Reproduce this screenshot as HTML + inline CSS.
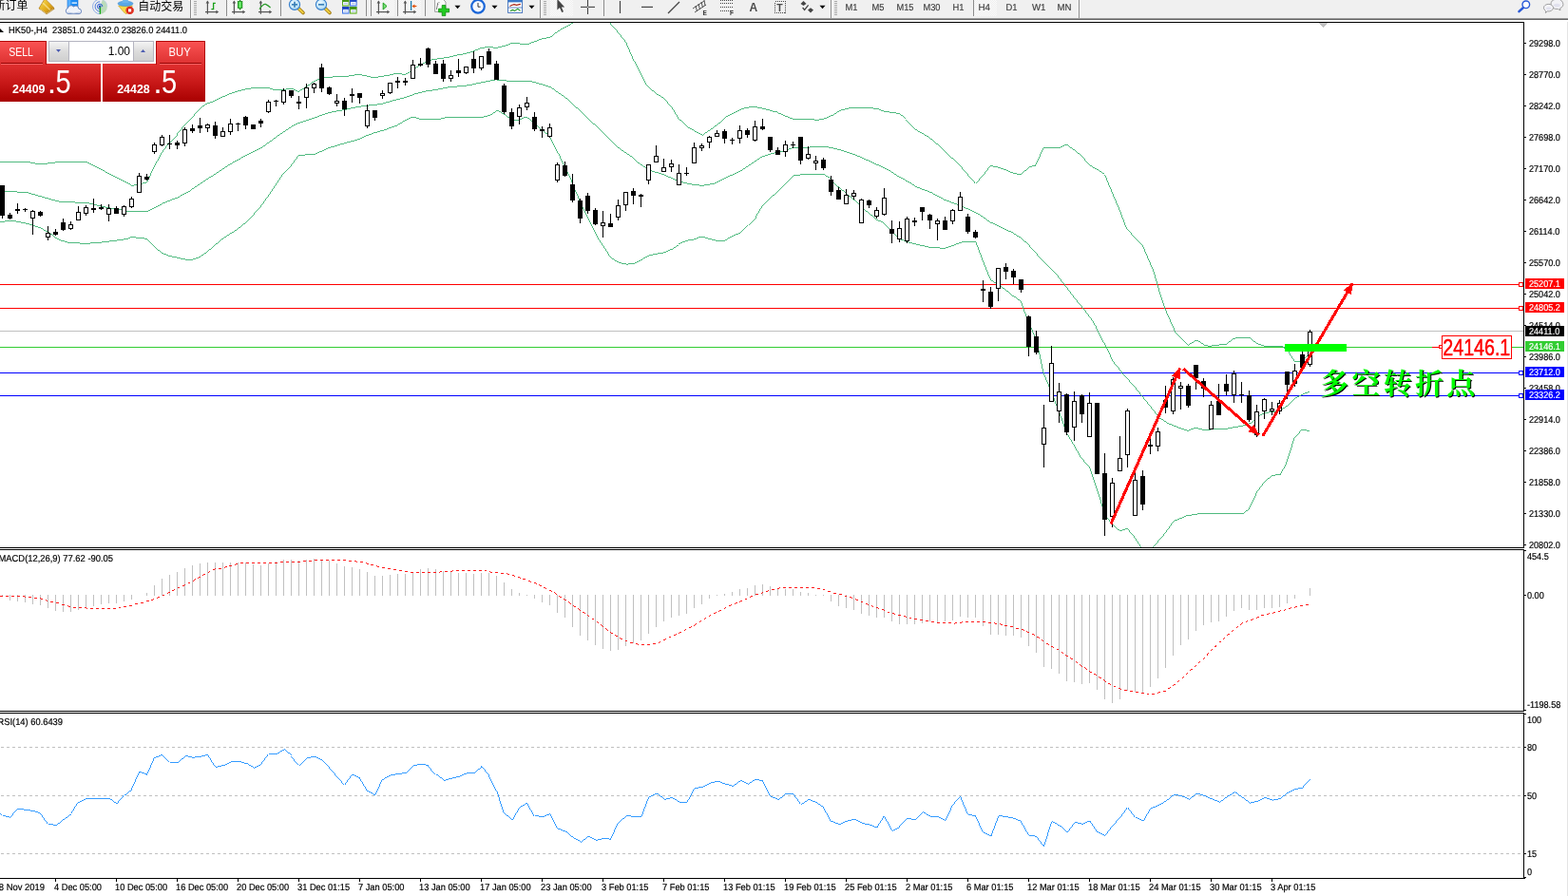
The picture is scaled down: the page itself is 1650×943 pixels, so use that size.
<!DOCTYPE html>
<html><head><meta charset="utf-8"><title>HK50-,H4</title>
<style>html,body{margin:0;padding:0;background:#fff;overflow:hidden}body{width:1650px;height:943px;font-family:"Liberation Sans","Noto Sans CJK SC",sans-serif}svg{display:block;position:absolute;left:0;top:0}text{white-space:pre}</style>
</head><body>
<svg width="1650" height="943" viewBox="0 0 1650 943">
<defs>
<clipPath id="cm"><rect x="0" y="24" width="1603" height="552"/></clipPath>
<clipPath id="cd"><rect x="0" y="579" width="1603" height="169"/></clipPath>
<clipPath id="cr"><rect x="0" y="751" width="1603" height="173"/></clipPath>
<linearGradient id="gr1" x1="0" y1="0" x2="0" y2="1"><stop offset="0" stop-color="#fb5454"/><stop offset="1" stop-color="#dc3030"/></linearGradient>
<linearGradient id="gr2" x1="0" y1="0" x2="0" y2="1"><stop offset="0" stop-color="#e03030"/><stop offset="0.5" stop-color="#c81818"/><stop offset="1" stop-color="#a80000"/></linearGradient>
<linearGradient id="gb" x1="0" y1="0" x2="0" y2="1"><stop offset="0" stop-color="#f4f4f4"/><stop offset="0.5" stop-color="#dcdcdc"/><stop offset="1" stop-color="#cfcfcf"/></linearGradient>
</defs>
<rect x="0" y="0" width="1650" height="943" fill="#fff"/>
<g shape-rendering="crispEdges">
<rect x="0" y="299" width="1603" height="1" fill="#ff0000"/>
<rect x="0" y="324" width="1603" height="1" fill="#ff0000"/>
<rect x="0" y="348" width="1603" height="1" fill="#c0c0c0"/>
<rect x="0" y="365" width="1603" height="1" fill="#32cd32"/>
<rect x="0" y="392" width="1603" height="1" fill="#0000ff"/>
<rect x="0" y="416" width="1603" height="1" fill="#0000ff"/>
</g>
<g clip-path="url(#cm)" shape-rendering="crispEdges">
<polyline points="-6.0,170.5 0.0,170.5 30.0,170.6 42.4,173.0 60.6,170.6 91.0,170.4 139.4,195.5 154.5,191.8 163.1,174.0 170.0,161.0 178.5,149.7 186.0,141.5 193.0,133.3 202.0,124.0 210.6,113.9 218.5,108.5 226.4,105.7 234.8,101.8 242.7,98.4 251.8,95.4 262.1,93.1 271.2,92.7 283.3,92.7 287.6,94.3 298.5,94.3 306.4,93.1 314.2,96.4 322.1,91.5 330.6,85.5 338.5,82.2 352.0,80.6 365.5,80.0 376.4,78.2 380.6,78.8 392.0,81.5 397.0,81.2 408.0,79.4 417.6,77.3 426.0,78.5 432.0,75.2 437.0,72.1 440.0,69.7 448.0,65.5 455.0,62.8 461.2,61.8 473.3,60.0 485.5,57.0 497.6,54.0 506.0,50.7 514.5,49.1 520.6,50.7 530.3,48.5 538.8,45.5 554.5,46.5 570.3,40.5 578.8,39.5 587.3,32.7 603.0,24.2 612.0,16.0 626.0,12.0 634.0,14.0 641.8,24.2 650.3,33.9 658.8,44.8 666.0,61.8 674.5,77.5 681.8,90.9 691.5,99.4 700.0,105.0 708.5,115.1 714.5,126.0 723.0,133.3 738.5,142.0 754.5,130.9 763.0,123.3 781.0,114.4 793.0,112.1 801.8,113.9 814.5,117.3 818.8,118.8 834.5,125.4 853.3,125.5 859.4,126.4 867.3,125.0 876.4,121.2 883.6,116.4 895.8,113.3 910.3,113.2 923.6,114.5 929.7,117.0 945.5,119.4 952.7,125.5 963.6,136.4 977.0,144.1 986.7,152.1 995.2,160.6 1003.6,167.9 1011.0,175.2 1018.2,183.6 1026.7,193.3 1035.2,183.6 1042.4,174.4 1049.7,175.9 1058.2,178.8 1066.7,182.4 1074.0,183.6 1083.6,175.6 1089.7,174.0 1098.2,155.3 1115.0,155.3 1122.4,152.1 1131.0,158.2 1138.2,164.2 1146.7,174.0 1154.0,178.0 1162.4,183.6 1171.0,204.2 1178.2,221.2 1185.5,240.6 1202.4,258.8 1207.3,270.0 1214.0,285.8 1220.0,307.0 1226.7,326.7 1237.0,350.0 1250.3,363.3 1258.5,358.2 1266.2,362.7 1272.0,364.3 1285.3,362.8 1290.0,362.4 1298.5,356.0 1303.3,355.3 1314.3,355.0 1322.8,361.7 1330.2,364.0 1342.0,364.5 1347.0,364.0 1351.8,365.5 1356.0,370.3 1362.0,380.0 1368.2,381.0 1378.0,372.0" fill="none" stroke="#3cb371" stroke-width="0.9" />
<polyline points="-6.0,201.0 5.5,201.5 27.9,202.5 58.2,211.2 63.6,212.4 92.1,213.5 114.0,218.8 127.3,220.3 134.5,222.4 154.5,222.4 169.7,214.7 185.5,208.2 202.4,198.9 218.2,188.5 242.4,172.7 259.0,163.5 276.0,154.8 283.3,149.7 293.0,142.6 307.6,132.7 313.6,129.7 330.6,124.2 344.0,119.2 351.0,117.6 364.0,115.2 376.4,112.5 388.5,110.9 403.0,109.1 412.7,106.0 427.3,102.4 437.0,98.8 448.0,96.0 461.2,94.0 473.3,91.5 485.5,90.7 497.6,88.8 509.7,86.3 521.8,83.9 530.3,84.8 540.0,85.5 558.2,85.5 570.3,88.9 580.0,92.1 597.0,104.2 614.0,120.0 629.7,135.0 650.3,155.1 666.0,166.0 674.5,173.8 681.8,178.9 691.5,181.8 701.2,185.0 714.5,190.9 723.0,193.4 738.5,195.3 753.0,192.7 766.7,185.9 780.6,179.0 801.8,165.0 812.0,161.5 826.0,158.8 834.0,155.4 850.3,155.2 857.0,154.3 870.3,154.5 883.0,157.5 889.7,159.4 904.2,164.7 916.4,170.3 931.0,176.8 937.0,180.0 945.5,186.0 962.4,195.8 980.6,203.0 994.0,210.3 1007.3,215.2 1013.3,217.6 1029.0,224.8 1042.4,234.0 1066.7,245.5 1074.0,250.3 1081.2,256.4 1089.7,266.0 1098.8,276.0 1102.4,279.0 1110.3,287.0 1118.8,297.9 1131.0,314.0 1139.4,324.0 1147.3,334.2 1152.7,342.7 1158.2,354.8 1163.6,364.0 1169.0,375.5 1174.5,384.0 1178.8,390.0 1195.8,409.4 1210.3,427.6 1220.0,439.7 1229.7,445.8 1241.8,450.6 1250.0,453.2 1258.0,450.2 1265.8,452.2 1283.0,451.8 1290.0,451.5 1298.8,449.6 1307.0,448.5 1314.5,445.8 1318.0,443.6 1325.0,437.6 1330.6,434.8 1338.5,433.4 1346.4,432.2 1354.2,427.6 1362.7,419.3 1370.0,415.3 1378.0,412.2" fill="none" stroke="#3cb371" stroke-width="0.9" />
<polyline points="-6.0,233.2 0.0,233.2 14.5,232.7 29.0,235.5 42.4,239.6 48.5,243.2 55.8,248.6 64.2,253.0 72.7,255.4 91.0,256.4 109.0,254.8 133.3,251.6 138.8,249.5 154.5,251.3 158.8,256.0 169.7,266.0 178.8,269.5 196.4,273.4 202.4,273.3 209.7,270.9 218.2,264.8 234.0,251.5 249.7,241.3 258.2,234.5 266.7,226.0 274.0,217.6 281.2,207.9 291.0,193.3 298.2,182.4 305.5,175.2 314.4,163.4 331.2,162.4 339.0,158.8 346.7,155.3 352.0,154.0 364.0,150.3 377.6,146.7 386.7,142.4 393.3,140.0 403.0,137.3 417.6,132.1 425.0,127.5 433.3,123.4 437.0,123.6 441.8,125.5 461.2,125.5 470.3,123.6 507.3,123.4 514.5,121.5 523.0,116.0 530.3,120.0 538.8,126.5 546.0,126.5 553.8,122.9 563.0,129.7 570.3,137.0 578.8,143.5 587.3,160.7 594.5,176.2 602.0,191.5 606.0,201.8 613.3,218.8 620.6,233.3 629.0,250.3 636.4,261.2 642.4,270.9 651.0,276.2 659.4,278.2 666.7,277.5 675.0,273.3 683.6,268.5 698.2,266.0 705.5,262.9 714.0,257.0 722.4,253.2 729.7,252.0 738.2,249.0 746.7,251.5 754.0,253.2 762.4,253.2 771.0,248.4 778.2,245.5 786.7,237.0 795.0,228.5 802.4,216.4 811.0,207.9 818.2,202.3 826.7,193.3 834.3,185.3 838.8,184.1 853.3,183.6 866.7,183.3 875.0,188.5 882.4,196.5 890.3,203.4 904.2,214.8 909.0,220.0 916.4,226.0 922.4,231.2 929.7,234.3 938.2,243.3 946.7,251.3 954.0,254.5 963.6,257.0 977.0,260.0 994.0,261.4 1003.6,258.0 1009.7,255.8 1014.5,254.2 1026.7,254.2 1035.2,277.0 1042.4,294.4 1050.3,299.8 1058.2,305.0 1066.5,312.0 1074.5,318.0 1078.2,328.2 1083.0,339.7 1086.7,348.8 1090.3,357.3 1094.0,373.0 1097.6,391.2 1106.0,411.8 1114.5,433.6 1123.0,456.7 1130.3,468.8 1137.6,481.8 1146.7,492.0 1152.7,509.7 1160.0,532.7 1164.8,544.8 1171.0,552.0 1178.8,559.2 1186.0,556.0 1194.0,565.6 1200.0,575.0 1206.0,583.0 1212.7,577.0 1215.8,573.3 1220.0,568.2 1225.5,561.8 1235.0,548.6 1249.5,542.5 1264.0,540.2 1292.7,540.3 1307.3,541.0 1314.5,535.5 1323.0,517.3 1330.3,507.6 1338.8,500.3 1347.3,499.6 1353.3,488.2 1358.0,474.0 1362.0,460.8 1370.0,452.4 1378.0,453.4" fill="none" stroke="#3cb371" stroke-width="0.9" />
</g>
<g shape-rendering="crispEdges" clip-path="url(#cm)">
<rect x="2" y="195" width="1" height="35" fill="#000"/>
<rect x="0" y="195" width="5" height="32" fill="#000"/>
<rect x="10" y="224" width="1" height="7" fill="#000"/>
<rect x="8" y="226" width="5" height="4" fill="#000"/>
<rect x="18" y="214" width="1" height="11" fill="#000"/>
<rect x="16" y="220" width="5" height="2" fill="#000"/>
<rect x="26" y="219" width="1" height="4" fill="#000"/>
<rect x="24" y="220" width="5" height="1" fill="#000"/>
<rect x="34" y="221" width="1" height="26" fill="#000"/>
<rect x="32" y="222" width="5" height="8" fill="#000"/>
<rect x="33" y="223" width="3" height="6" fill="#fff"/>
<rect x="42" y="222" width="1" height="6" fill="#000"/>
<rect x="40" y="223" width="5" height="4" fill="#000"/>
<rect x="50" y="238" width="1" height="15" fill="#000"/>
<rect x="48" y="245" width="5" height="5" fill="#000"/>
<rect x="49" y="246" width="3" height="3" fill="#fff"/>
<rect x="58" y="241" width="1" height="7" fill="#000"/>
<rect x="56" y="244" width="5" height="3" fill="#000"/>
<rect x="66" y="230" width="1" height="13" fill="#000"/>
<rect x="64" y="234" width="5" height="8" fill="#000"/>
<rect x="74" y="233" width="1" height="9" fill="#000"/>
<rect x="72" y="236" width="5" height="5" fill="#000"/>
<rect x="73" y="237" width="3" height="3" fill="#fff"/>
<rect x="82" y="217" width="1" height="15" fill="#000"/>
<rect x="80" y="223" width="5" height="9" fill="#000"/>
<rect x="81" y="224" width="3" height="7" fill="#fff"/>
<rect x="90" y="216" width="1" height="11" fill="#000"/>
<rect x="88" y="218" width="5" height="7" fill="#000"/>
<rect x="89" y="219" width="3" height="5" fill="#fff"/>
<rect x="98" y="209" width="1" height="15" fill="#000"/>
<rect x="96" y="219" width="5" height="2" fill="#000"/>
<rect x="106" y="215" width="1" height="6" fill="#000"/>
<rect x="104" y="218" width="5" height="2" fill="#000"/>
<rect x="114" y="215" width="1" height="18" fill="#000"/>
<rect x="112" y="219" width="5" height="7" fill="#000"/>
<rect x="113" y="220" width="3" height="5" fill="#fff"/>
<rect x="122" y="217" width="1" height="8" fill="#000"/>
<rect x="120" y="219" width="5" height="6" fill="#000"/>
<rect x="130" y="216" width="1" height="12" fill="#000"/>
<rect x="128" y="217" width="5" height="9" fill="#000"/>
<rect x="129" y="218" width="3" height="7" fill="#fff"/>
<rect x="138" y="207" width="1" height="12" fill="#000"/>
<rect x="136" y="209" width="5" height="9" fill="#000"/>
<rect x="137" y="210" width="3" height="7" fill="#fff"/>
<rect x="146" y="182" width="1" height="21" fill="#000"/>
<rect x="144" y="185" width="5" height="18" fill="#000"/>
<rect x="145" y="186" width="3" height="16" fill="#fff"/>
<rect x="154" y="183" width="1" height="7" fill="#000"/>
<rect x="152" y="186" width="5" height="3" fill="#000"/>
<rect x="162" y="150" width="1" height="12" fill="#000"/>
<rect x="160" y="152" width="5" height="8" fill="#000"/>
<rect x="161" y="153" width="3" height="6" fill="#fff"/>
<rect x="170" y="142" width="1" height="12" fill="#000"/>
<rect x="168" y="144" width="5" height="9" fill="#000"/>
<rect x="169" y="145" width="3" height="7" fill="#fff"/>
<rect x="178" y="142" width="1" height="15" fill="#000"/>
<rect x="176" y="151" width="5" height="1" fill="#000"/>
<rect x="186" y="148" width="1" height="9" fill="#000"/>
<rect x="184" y="150" width="5" height="3" fill="#000"/>
<rect x="194" y="134" width="1" height="20" fill="#000"/>
<rect x="192" y="136" width="5" height="15" fill="#000"/>
<rect x="193" y="137" width="3" height="13" fill="#fff"/>
<rect x="202" y="131" width="1" height="9" fill="#000"/>
<rect x="200" y="135" width="5" height="3" fill="#000"/>
<rect x="210" y="124" width="1" height="16" fill="#000"/>
<rect x="208" y="132" width="5" height="3" fill="#000"/>
<rect x="218" y="130" width="1" height="9" fill="#000"/>
<rect x="216" y="131" width="5" height="4" fill="#000"/>
<rect x="217" y="132" width="3" height="2" fill="#fff"/>
<rect x="226" y="128" width="1" height="18" fill="#000"/>
<rect x="224" y="132" width="5" height="11" fill="#000"/>
<rect x="234" y="134" width="1" height="10" fill="#000"/>
<rect x="232" y="138" width="5" height="6" fill="#000"/>
<rect x="233" y="139" width="3" height="4" fill="#fff"/>
<rect x="242" y="125" width="1" height="17" fill="#000"/>
<rect x="240" y="130" width="5" height="9" fill="#000"/>
<rect x="241" y="131" width="3" height="7" fill="#fff"/>
<rect x="250" y="129" width="1" height="9" fill="#000"/>
<rect x="248" y="130" width="5" height="1" fill="#000"/>
<rect x="258" y="122" width="1" height="14" fill="#000"/>
<rect x="256" y="123" width="5" height="9" fill="#000"/>
<rect x="266" y="131" width="1" height="5" fill="#000"/>
<rect x="264" y="131" width="5" height="5" fill="#000"/>
<rect x="274" y="125" width="1" height="9" fill="#000"/>
<rect x="272" y="127" width="5" height="3" fill="#000"/>
<rect x="282" y="105" width="1" height="14" fill="#000"/>
<rect x="280" y="107" width="5" height="11" fill="#000"/>
<rect x="281" y="108" width="3" height="9" fill="#fff"/>
<rect x="290" y="105" width="1" height="7" fill="#000"/>
<rect x="288" y="106" width="5" height="1" fill="#000"/>
<rect x="298" y="93" width="1" height="17" fill="#000"/>
<rect x="296" y="95" width="5" height="13" fill="#000"/>
<rect x="297" y="96" width="3" height="11" fill="#fff"/>
<rect x="306" y="95" width="1" height="8" fill="#000"/>
<rect x="304" y="95" width="5" height="6" fill="#000"/>
<rect x="314" y="101" width="1" height="14" fill="#000"/>
<rect x="312" y="107" width="5" height="2" fill="#000"/>
<rect x="322" y="88" width="1" height="26" fill="#000"/>
<rect x="320" y="92" width="5" height="11" fill="#000"/>
<rect x="321" y="93" width="3" height="9" fill="#fff"/>
<rect x="330" y="87" width="1" height="11" fill="#000"/>
<rect x="328" y="88" width="5" height="5" fill="#000"/>
<rect x="329" y="89" width="3" height="3" fill="#fff"/>
<rect x="338" y="67" width="1" height="30" fill="#000"/>
<rect x="336" y="71" width="5" height="22" fill="#000"/>
<rect x="346" y="91" width="1" height="9" fill="#000"/>
<rect x="344" y="92" width="5" height="7" fill="#000"/>
<rect x="354" y="99" width="1" height="13" fill="#000"/>
<rect x="352" y="106" width="5" height="3" fill="#000"/>
<rect x="353" y="107" width="3" height="1" fill="#fff"/>
<rect x="362" y="103" width="1" height="19" fill="#000"/>
<rect x="360" y="106" width="5" height="9" fill="#000"/>
<rect x="370" y="93" width="1" height="15" fill="#000"/>
<rect x="368" y="99" width="5" height="2" fill="#000"/>
<rect x="378" y="98" width="1" height="11" fill="#000"/>
<rect x="376" y="98" width="5" height="5" fill="#000"/>
<rect x="386" y="110" width="1" height="25" fill="#000"/>
<rect x="384" y="116" width="5" height="17" fill="#000"/>
<rect x="385" y="117" width="3" height="15" fill="#fff"/>
<rect x="394" y="116" width="1" height="11" fill="#000"/>
<rect x="392" y="116" width="5" height="8" fill="#000"/>
<rect x="402" y="95" width="1" height="9" fill="#000"/>
<rect x="400" y="98" width="5" height="3" fill="#000"/>
<rect x="401" y="99" width="3" height="1" fill="#fff"/>
<rect x="410" y="87" width="1" height="12" fill="#000"/>
<rect x="408" y="87" width="5" height="11" fill="#000"/>
<rect x="409" y="88" width="3" height="9" fill="#fff"/>
<rect x="418" y="81" width="1" height="12" fill="#000"/>
<rect x="416" y="85" width="5" height="2" fill="#000"/>
<rect x="426" y="82" width="1" height="8" fill="#000"/>
<rect x="424" y="85" width="5" height="2" fill="#000"/>
<rect x="434" y="63" width="1" height="20" fill="#000"/>
<rect x="432" y="68" width="5" height="15" fill="#000"/>
<rect x="433" y="69" width="3" height="13" fill="#fff"/>
<rect x="442" y="61" width="1" height="9" fill="#000"/>
<rect x="440" y="67" width="5" height="2" fill="#000"/>
<rect x="450" y="50" width="1" height="21" fill="#000"/>
<rect x="448" y="51" width="5" height="17" fill="#000"/>
<rect x="458" y="64" width="1" height="14" fill="#000"/>
<rect x="456" y="67" width="5" height="11" fill="#000"/>
<rect x="466" y="63" width="1" height="23" fill="#000"/>
<rect x="464" y="67" width="5" height="16" fill="#000"/>
<rect x="474" y="74" width="1" height="12" fill="#000"/>
<rect x="472" y="79" width="5" height="4" fill="#000"/>
<rect x="473" y="80" width="3" height="2" fill="#fff"/>
<rect x="482" y="62" width="1" height="19" fill="#000"/>
<rect x="480" y="74" width="5" height="3" fill="#000"/>
<rect x="490" y="70" width="1" height="8" fill="#000"/>
<rect x="488" y="70" width="5" height="7" fill="#000"/>
<rect x="489" y="71" width="3" height="5" fill="#fff"/>
<rect x="498" y="54" width="1" height="23" fill="#000"/>
<rect x="496" y="62" width="5" height="10" fill="#000"/>
<rect x="506" y="59" width="1" height="15" fill="#000"/>
<rect x="504" y="59" width="5" height="13" fill="#000"/>
<rect x="505" y="60" width="3" height="11" fill="#fff"/>
<rect x="514" y="51" width="1" height="17" fill="#000"/>
<rect x="512" y="54" width="5" height="14" fill="#000"/>
<rect x="522" y="64" width="1" height="20" fill="#000"/>
<rect x="520" y="67" width="5" height="17" fill="#000"/>
<rect x="530" y="88" width="1" height="32" fill="#000"/>
<rect x="528" y="90" width="5" height="28" fill="#000"/>
<rect x="538" y="114" width="1" height="22" fill="#000"/>
<rect x="536" y="118" width="5" height="15" fill="#000"/>
<rect x="546" y="110" width="1" height="21" fill="#000"/>
<rect x="544" y="113" width="5" height="10" fill="#000"/>
<rect x="545" y="114" width="3" height="8" fill="#fff"/>
<rect x="554" y="102" width="1" height="14" fill="#000"/>
<rect x="552" y="108" width="5" height="5" fill="#000"/>
<rect x="553" y="109" width="3" height="3" fill="#fff"/>
<rect x="562" y="118" width="1" height="20" fill="#000"/>
<rect x="560" y="123" width="5" height="13" fill="#000"/>
<rect x="570" y="133" width="1" height="12" fill="#000"/>
<rect x="568" y="136" width="5" height="2" fill="#000"/>
<rect x="578" y="130" width="1" height="15" fill="#000"/>
<rect x="576" y="134" width="5" height="10" fill="#000"/>
<rect x="577" y="135" width="3" height="8" fill="#fff"/>
<rect x="586" y="171" width="1" height="21" fill="#000"/>
<rect x="584" y="173" width="5" height="17" fill="#000"/>
<rect x="585" y="174" width="3" height="15" fill="#fff"/>
<rect x="594" y="170" width="1" height="16" fill="#000"/>
<rect x="592" y="174" width="5" height="11" fill="#000"/>
<rect x="602" y="183" width="1" height="30" fill="#000"/>
<rect x="600" y="194" width="5" height="17" fill="#000"/>
<rect x="610" y="209" width="1" height="26" fill="#000"/>
<rect x="608" y="211" width="5" height="19" fill="#000"/>
<rect x="618" y="203" width="1" height="22" fill="#000"/>
<rect x="616" y="206" width="5" height="16" fill="#000"/>
<rect x="626" y="219" width="1" height="18" fill="#000"/>
<rect x="624" y="221" width="5" height="15" fill="#000"/>
<rect x="634" y="222" width="1" height="28" fill="#000"/>
<rect x="632" y="234" width="5" height="4" fill="#000"/>
<rect x="633" y="235" width="3" height="2" fill="#fff"/>
<rect x="642" y="225" width="1" height="14" fill="#000"/>
<rect x="640" y="235" width="5" height="4" fill="#000"/>
<rect x="650" y="210" width="1" height="22" fill="#000"/>
<rect x="648" y="216" width="5" height="13" fill="#000"/>
<rect x="649" y="217" width="3" height="11" fill="#fff"/>
<rect x="658" y="202" width="1" height="20" fill="#000"/>
<rect x="656" y="202" width="5" height="14" fill="#000"/>
<rect x="657" y="203" width="3" height="12" fill="#fff"/>
<rect x="666" y="198" width="1" height="17" fill="#000"/>
<rect x="664" y="201" width="5" height="5" fill="#000"/>
<rect x="674" y="204" width="1" height="14" fill="#000"/>
<rect x="672" y="205" width="5" height="2" fill="#000"/>
<rect x="682" y="173" width="1" height="21" fill="#000"/>
<rect x="680" y="173" width="5" height="17" fill="#000"/>
<rect x="681" y="174" width="3" height="15" fill="#fff"/>
<rect x="690" y="153" width="1" height="18" fill="#000"/>
<rect x="688" y="164" width="5" height="7" fill="#000"/>
<rect x="689" y="165" width="3" height="5" fill="#fff"/>
<rect x="698" y="167" width="1" height="14" fill="#000"/>
<rect x="696" y="176" width="5" height="5" fill="#000"/>
<rect x="697" y="177" width="3" height="3" fill="#fff"/>
<rect x="706" y="168" width="1" height="13" fill="#000"/>
<rect x="704" y="172" width="5" height="4" fill="#000"/>
<rect x="705" y="173" width="3" height="2" fill="#fff"/>
<rect x="714" y="173" width="1" height="22" fill="#000"/>
<rect x="712" y="182" width="5" height="13" fill="#000"/>
<rect x="713" y="183" width="3" height="11" fill="#fff"/>
<rect x="722" y="176" width="1" height="9" fill="#000"/>
<rect x="720" y="182" width="5" height="1" fill="#000"/>
<rect x="730" y="150" width="1" height="22" fill="#000"/>
<rect x="728" y="155" width="5" height="17" fill="#000"/>
<rect x="729" y="156" width="3" height="15" fill="#fff"/>
<rect x="738" y="151" width="1" height="8" fill="#000"/>
<rect x="736" y="153" width="5" height="3" fill="#000"/>
<rect x="737" y="154" width="3" height="1" fill="#fff"/>
<rect x="746" y="143" width="1" height="13" fill="#000"/>
<rect x="744" y="144" width="5" height="6" fill="#000"/>
<rect x="745" y="145" width="3" height="4" fill="#fff"/>
<rect x="754" y="137" width="1" height="7" fill="#000"/>
<rect x="752" y="140" width="5" height="4" fill="#000"/>
<rect x="753" y="141" width="3" height="2" fill="#fff"/>
<rect x="762" y="136" width="1" height="15" fill="#000"/>
<rect x="760" y="138" width="5" height="8" fill="#000"/>
<rect x="770" y="145" width="1" height="7" fill="#000"/>
<rect x="768" y="147" width="5" height="1" fill="#000"/>
<rect x="778" y="132" width="1" height="19" fill="#000"/>
<rect x="776" y="137" width="5" height="9" fill="#000"/>
<rect x="777" y="138" width="3" height="7" fill="#fff"/>
<rect x="786" y="135" width="1" height="10" fill="#000"/>
<rect x="784" y="137" width="5" height="5" fill="#000"/>
<rect x="794" y="127" width="1" height="22" fill="#000"/>
<rect x="792" y="133" width="5" height="15" fill="#000"/>
<rect x="793" y="134" width="3" height="13" fill="#fff"/>
<rect x="802" y="125" width="1" height="12" fill="#000"/>
<rect x="800" y="133" width="5" height="3" fill="#000"/>
<rect x="810" y="144" width="1" height="16" fill="#000"/>
<rect x="808" y="144" width="5" height="14" fill="#000"/>
<rect x="818" y="155" width="1" height="8" fill="#000"/>
<rect x="816" y="158" width="5" height="5" fill="#000"/>
<rect x="826" y="148" width="1" height="17" fill="#000"/>
<rect x="824" y="152" width="5" height="8" fill="#000"/>
<rect x="825" y="153" width="3" height="6" fill="#fff"/>
<rect x="834" y="149" width="1" height="7" fill="#000"/>
<rect x="832" y="152" width="5" height="1" fill="#000"/>
<rect x="842" y="144" width="1" height="29" fill="#000"/>
<rect x="840" y="144" width="5" height="25" fill="#000"/>
<rect x="850" y="154" width="1" height="14" fill="#000"/>
<rect x="848" y="162" width="5" height="5" fill="#000"/>
<rect x="849" y="163" width="3" height="3" fill="#fff"/>
<rect x="858" y="164" width="1" height="15" fill="#000"/>
<rect x="856" y="169" width="5" height="3" fill="#000"/>
<rect x="857" y="170" width="3" height="1" fill="#fff"/>
<rect x="866" y="166" width="1" height="13" fill="#000"/>
<rect x="864" y="168" width="5" height="9" fill="#000"/>
<rect x="874" y="185" width="1" height="21" fill="#000"/>
<rect x="872" y="189" width="5" height="13" fill="#000"/>
<rect x="882" y="197" width="1" height="13" fill="#000"/>
<rect x="880" y="200" width="5" height="10" fill="#000"/>
<rect x="890" y="199" width="1" height="16" fill="#000"/>
<rect x="888" y="205" width="5" height="10" fill="#000"/>
<rect x="889" y="206" width="3" height="8" fill="#fff"/>
<rect x="898" y="200" width="1" height="10" fill="#000"/>
<rect x="896" y="203" width="5" height="4" fill="#000"/>
<rect x="897" y="204" width="3" height="2" fill="#fff"/>
<rect x="906" y="209" width="1" height="26" fill="#000"/>
<rect x="904" y="210" width="5" height="25" fill="#000"/>
<rect x="905" y="211" width="3" height="23" fill="#fff"/>
<rect x="914" y="210" width="1" height="9" fill="#000"/>
<rect x="912" y="211" width="5" height="5" fill="#000"/>
<rect x="922" y="218" width="1" height="12" fill="#000"/>
<rect x="920" y="221" width="5" height="7" fill="#000"/>
<rect x="921" y="222" width="3" height="5" fill="#fff"/>
<rect x="930" y="198" width="1" height="29" fill="#000"/>
<rect x="928" y="208" width="5" height="18" fill="#000"/>
<rect x="929" y="209" width="3" height="16" fill="#fff"/>
<rect x="938" y="232" width="1" height="24" fill="#000"/>
<rect x="936" y="241" width="5" height="5" fill="#000"/>
<rect x="946" y="233" width="1" height="22" fill="#000"/>
<rect x="944" y="240" width="5" height="12" fill="#000"/>
<rect x="945" y="241" width="3" height="10" fill="#fff"/>
<rect x="954" y="228" width="1" height="28" fill="#000"/>
<rect x="952" y="230" width="5" height="24" fill="#000"/>
<rect x="953" y="231" width="3" height="22" fill="#fff"/>
<rect x="962" y="229" width="1" height="9" fill="#000"/>
<rect x="960" y="232" width="5" height="2" fill="#000"/>
<rect x="970" y="218" width="1" height="14" fill="#000"/>
<rect x="968" y="218" width="5" height="5" fill="#000"/>
<rect x="978" y="225" width="1" height="16" fill="#000"/>
<rect x="976" y="226" width="5" height="6" fill="#000"/>
<rect x="986" y="230" width="1" height="23" fill="#000"/>
<rect x="984" y="232" width="5" height="4" fill="#000"/>
<rect x="985" y="233" width="3" height="2" fill="#fff"/>
<rect x="994" y="228" width="1" height="14" fill="#000"/>
<rect x="992" y="232" width="5" height="10" fill="#000"/>
<rect x="1002" y="220" width="1" height="16" fill="#000"/>
<rect x="1000" y="221" width="5" height="12" fill="#000"/>
<rect x="1001" y="222" width="3" height="10" fill="#fff"/>
<rect x="1010" y="202" width="1" height="20" fill="#000"/>
<rect x="1008" y="207" width="5" height="15" fill="#000"/>
<rect x="1009" y="208" width="3" height="13" fill="#fff"/>
<rect x="1018" y="225" width="1" height="21" fill="#000"/>
<rect x="1016" y="228" width="5" height="16" fill="#000"/>
<rect x="1026" y="242" width="1" height="9" fill="#000"/>
<rect x="1024" y="244" width="5" height="6" fill="#000"/>
<rect x="1034" y="295" width="1" height="23" fill="#000"/>
<rect x="1032" y="304" width="5" height="2" fill="#000"/>
<rect x="1042" y="302" width="1" height="23" fill="#000"/>
<rect x="1040" y="307" width="5" height="16" fill="#000"/>
<rect x="1050" y="282" width="1" height="35" fill="#000"/>
<rect x="1048" y="282" width="5" height="22" fill="#000"/>
<rect x="1049" y="283" width="3" height="20" fill="#fff"/>
<rect x="1058" y="277" width="1" height="17" fill="#000"/>
<rect x="1056" y="281" width="5" height="5" fill="#000"/>
<rect x="1066" y="283" width="1" height="16" fill="#000"/>
<rect x="1064" y="285" width="5" height="7" fill="#000"/>
<rect x="1074" y="294" width="1" height="14" fill="#000"/>
<rect x="1072" y="294" width="5" height="11" fill="#000"/>
<rect x="1082" y="332" width="1" height="43" fill="#000"/>
<rect x="1080" y="333" width="5" height="32" fill="#000"/>
<rect x="1090" y="348" width="1" height="25" fill="#000"/>
<rect x="1088" y="354" width="5" height="17" fill="#000"/>
<rect x="1098" y="426" width="1" height="66" fill="#000"/>
<rect x="1096" y="450" width="5" height="18" fill="#000"/>
<rect x="1097" y="451" width="3" height="16" fill="#fff"/>
<rect x="1106" y="364" width="1" height="59" fill="#000"/>
<rect x="1104" y="382" width="5" height="41" fill="#000"/>
<rect x="1105" y="383" width="3" height="39" fill="#fff"/>
<rect x="1114" y="403" width="1" height="42" fill="#000"/>
<rect x="1112" y="412" width="5" height="21" fill="#000"/>
<rect x="1113" y="413" width="3" height="19" fill="#fff"/>
<rect x="1122" y="414" width="1" height="44" fill="#000"/>
<rect x="1120" y="415" width="5" height="40" fill="#000"/>
<rect x="1130" y="412" width="1" height="52" fill="#000"/>
<rect x="1128" y="422" width="5" height="28" fill="#000"/>
<rect x="1129" y="423" width="3" height="26" fill="#fff"/>
<rect x="1138" y="415" width="1" height="30" fill="#000"/>
<rect x="1136" y="416" width="5" height="20" fill="#000"/>
<rect x="1146" y="413" width="1" height="47" fill="#000"/>
<rect x="1144" y="424" width="5" height="36" fill="#000"/>
<rect x="1145" y="425" width="3" height="34" fill="#fff"/>
<rect x="1154" y="424" width="1" height="75" fill="#000"/>
<rect x="1152" y="424" width="5" height="75" fill="#000"/>
<rect x="1162" y="477" width="1" height="87" fill="#000"/>
<rect x="1160" y="498" width="5" height="49" fill="#000"/>
<rect x="1170" y="503" width="1" height="52" fill="#000"/>
<rect x="1168" y="508" width="5" height="36" fill="#000"/>
<rect x="1169" y="509" width="3" height="34" fill="#fff"/>
<rect x="1178" y="459" width="1" height="37" fill="#000"/>
<rect x="1176" y="482" width="5" height="14" fill="#000"/>
<rect x="1177" y="483" width="3" height="12" fill="#fff"/>
<rect x="1186" y="430" width="1" height="62" fill="#000"/>
<rect x="1184" y="432" width="5" height="47" fill="#000"/>
<rect x="1185" y="433" width="3" height="45" fill="#fff"/>
<rect x="1194" y="498" width="1" height="45" fill="#000"/>
<rect x="1192" y="505" width="5" height="38" fill="#000"/>
<rect x="1193" y="506" width="3" height="36" fill="#fff"/>
<rect x="1202" y="495" width="1" height="42" fill="#000"/>
<rect x="1200" y="501" width="5" height="30" fill="#000"/>
<rect x="1210" y="462" width="1" height="16" fill="#000"/>
<rect x="1208" y="468" width="5" height="2" fill="#000"/>
<rect x="1218" y="450" width="1" height="25" fill="#000"/>
<rect x="1216" y="454" width="5" height="16" fill="#000"/>
<rect x="1217" y="455" width="3" height="14" fill="#fff"/>
<rect x="1226" y="406" width="1" height="29" fill="#000"/>
<rect x="1224" y="421" width="5" height="8" fill="#000"/>
<rect x="1234" y="397" width="1" height="39" fill="#000"/>
<rect x="1232" y="399" width="5" height="34" fill="#000"/>
<rect x="1233" y="400" width="3" height="32" fill="#fff"/>
<rect x="1242" y="402" width="1" height="29" fill="#000"/>
<rect x="1240" y="406" width="5" height="3" fill="#000"/>
<rect x="1241" y="407" width="3" height="1" fill="#fff"/>
<rect x="1250" y="404" width="1" height="25" fill="#000"/>
<rect x="1248" y="406" width="5" height="21" fill="#000"/>
<rect x="1258" y="384" width="1" height="26" fill="#000"/>
<rect x="1256" y="384" width="5" height="14" fill="#000"/>
<rect x="1266" y="398" width="1" height="20" fill="#000"/>
<rect x="1264" y="401" width="5" height="8" fill="#000"/>
<rect x="1274" y="422" width="1" height="30" fill="#000"/>
<rect x="1272" y="426" width="5" height="26" fill="#000"/>
<rect x="1273" y="427" width="3" height="24" fill="#fff"/>
<rect x="1282" y="404" width="1" height="33" fill="#000"/>
<rect x="1280" y="422" width="5" height="15" fill="#000"/>
<rect x="1290" y="394" width="1" height="22" fill="#000"/>
<rect x="1288" y="404" width="5" height="8" fill="#000"/>
<rect x="1298" y="390" width="1" height="34" fill="#000"/>
<rect x="1296" y="393" width="5" height="23" fill="#000"/>
<rect x="1297" y="394" width="3" height="21" fill="#fff"/>
<rect x="1306" y="402" width="1" height="22" fill="#000"/>
<rect x="1304" y="415" width="5" height="1" fill="#000"/>
<rect x="1314" y="411" width="1" height="33" fill="#000"/>
<rect x="1312" y="416" width="5" height="26" fill="#000"/>
<rect x="1322" y="426" width="1" height="34" fill="#000"/>
<rect x="1320" y="433" width="5" height="25" fill="#000"/>
<rect x="1321" y="434" width="3" height="23" fill="#fff"/>
<rect x="1330" y="419" width="1" height="22" fill="#000"/>
<rect x="1328" y="420" width="5" height="13" fill="#000"/>
<rect x="1329" y="421" width="3" height="11" fill="#fff"/>
<rect x="1338" y="423" width="1" height="14" fill="#000"/>
<rect x="1336" y="430" width="5" height="3" fill="#000"/>
<rect x="1337" y="431" width="3" height="1" fill="#fff"/>
<rect x="1346" y="421" width="1" height="15" fill="#000"/>
<rect x="1344" y="424" width="5" height="9" fill="#000"/>
<rect x="1345" y="425" width="3" height="7" fill="#fff"/>
<rect x="1354" y="391" width="1" height="29" fill="#000"/>
<rect x="1352" y="391" width="5" height="14" fill="#000"/>
<rect x="1362" y="383" width="1" height="24" fill="#000"/>
<rect x="1360" y="390" width="5" height="14" fill="#000"/>
<rect x="1361" y="391" width="3" height="12" fill="#fff"/>
<rect x="1370" y="370" width="1" height="17" fill="#000"/>
<rect x="1368" y="373" width="5" height="14" fill="#000"/>
<rect x="1378" y="347" width="1" height="39" fill="#000"/>
<rect x="1376" y="349" width="5" height="35" fill="#000"/>
<rect x="1377" y="350" width="3" height="33" fill="#fff"/>
</g>
<line x1="1169.0" y1="551.3" x2="1241.8" y2="387.4" stroke="#ff0000" stroke-width="3" shape-rendering="crispEdges"/>
<polygon points="1241.8,387.4 1241.7,399.4 1232.9,395.5" fill="#ff0000" shape-rendering="crispEdges"/>
<line x1="1245.3" y1="388.3" x2="1324.8" y2="457.8" stroke="#ff0000" stroke-width="3" shape-rendering="crispEdges"/>
<polygon points="1324.8,457.8 1313.4,454.2 1319.7,446.9" fill="#ff0000" shape-rendering="crispEdges"/>
<line x1="1328.8" y1="458.8" x2="1423.4" y2="298.2" stroke="#ff0000" stroke-width="3" shape-rendering="crispEdges"/>
<polygon points="1423.4,298.2 1422.0,310.1 1413.7,305.2" fill="#ff0000" shape-rendering="crispEdges"/>
<rect x="1352" y="362" width="65" height="8" fill="#00ff00" shape-rendering="crispEdges"/>
<g shape-rendering="crispEdges">
<rect x="1598.5" y="297.5" width="4" height="4" fill="#fff" stroke="#ff0000" stroke-width="1"/>
<rect x="1598.5" y="322.5" width="4" height="4" fill="#fff" stroke="#ff0000" stroke-width="1"/>
<rect x="1598.5" y="390.5" width="4" height="4" fill="#fff" stroke="#0000ff" stroke-width="1"/>
<rect x="1598.5" y="414.5" width="4" height="4" fill="#fff" stroke="#0000ff" stroke-width="1"/>
<rect x="1507" y="365" width="8" height="1" fill="#ff0000"/>
<rect x="1514.5" y="363.5" width="3" height="3" fill="#fff" stroke="#ff0000" stroke-width="1"/>
<rect x="1517.5" y="353.5" width="73" height="24" fill="#fff" stroke="#ff0000" stroke-width="1"/>
</g>
<text x="1518.3" y="373.8" font-family="Liberation Sans, sans-serif" font-size="23" fill="#ff0000" stroke="#ff0000" stroke-width="0.5" textLength="71" lengthAdjust="spacingAndGlyphs">24146.1</text>
<text x="1389.2" y="414" font-family="Liberation Serif, Noto Serif CJK SC, serif" font-weight="700" font-size="30" fill="#00ff00" style="filter:drop-shadow(1px 1px 0px #000)" textLength="163" lengthAdjust="spacing">多空转折点</text>
<g shape-rendering="crispEdges" fill="#c0c0c0"><rect x="1388" y="24" width="9" height="1"/><rect x="1389" y="25" width="7" height="1"/><rect x="1390" y="26" width="5" height="1"/><rect x="1391" y="27" width="3" height="1"/><rect x="1392" y="28" width="1" height="1"/></g>
<g shape-rendering="crispEdges" fill="#000">
<rect x="0" y="23" width="1604" height="1"/>
<rect x="1603" y="23" width="1" height="902"/>
<rect x="0" y="576" width="1604" height="1"/>
<rect x="0" y="578" width="1604" height="1"/>
<rect x="0" y="748" width="1604" height="1"/>
<rect x="0" y="750" width="1604" height="1"/>
<rect x="0" y="924" width="1605" height="1"/>
<rect x="1603" y="577" width="1" height="1" fill="#fff"/>
<rect x="1603" y="749" width="1" height="1" fill="#fff"/>
<rect x="1604" y="45" width="2" height="1"/>
<rect x="1604" y="78" width="2" height="1"/>
<rect x="1604" y="111" width="2" height="1"/>
<rect x="1604" y="144" width="2" height="1"/>
<rect x="1604" y="177" width="2" height="1"/>
<rect x="1604" y="210" width="2" height="1"/>
<rect x="1604" y="243" width="2" height="1"/>
<rect x="1604" y="276" width="2" height="1"/>
<rect x="1604" y="309" width="2" height="1"/>
<rect x="1604" y="342" width="2" height="1"/>
<rect x="1604" y="375" width="2" height="1"/>
<rect x="1604" y="408" width="2" height="1"/>
<rect x="1604" y="441" width="2" height="1"/>
<rect x="1604" y="474" width="2" height="1"/>
<rect x="1604" y="507" width="2" height="1"/>
<rect x="1604" y="540" width="2" height="1"/>
<rect x="1604" y="573" width="2" height="1"/>
<rect x="1604" y="579" width="2" height="1"/><rect x="1604" y="626" width="2" height="1"/><rect x="1604" y="747" width="2" height="1"/>
<rect x="1604" y="751" width="2" height="1"/><rect x="1604" y="786" width="2" height="1"/><rect x="1604" y="837" width="2" height="1"/><rect x="1604" y="898" width="2" height="1"/><rect x="1604" y="923" width="2" height="1"/>
<rect x="58" y="925" width="1" height="3"/>
<rect x="122" y="925" width="1" height="3"/>
<rect x="186" y="925" width="1" height="3"/>
<rect x="250" y="925" width="1" height="3"/>
<rect x="314" y="925" width="1" height="3"/>
<rect x="378" y="925" width="1" height="3"/>
<rect x="442" y="925" width="1" height="3"/>
<rect x="506" y="925" width="1" height="3"/>
<rect x="570" y="925" width="1" height="3"/>
<rect x="634" y="925" width="1" height="3"/>
<rect x="698" y="925" width="1" height="3"/>
<rect x="762" y="925" width="1" height="3"/>
<rect x="826" y="925" width="1" height="3"/>
<rect x="890" y="925" width="1" height="3"/>
<rect x="954" y="925" width="1" height="3"/>
<rect x="1018" y="925" width="1" height="3"/>
<rect x="1082" y="925" width="1" height="3"/>
<rect x="1146" y="925" width="1" height="3"/>
<rect x="1210" y="925" width="1" height="3"/>
<rect x="1274" y="925" width="1" height="3"/>
<rect x="1338" y="925" width="1" height="3"/>
</g>
<rect x="1649" y="20" width="1" height="923" fill="#e4e4e4" shape-rendering="crispEdges"/>
<text transform="translate(1609.0 49.0) scale(0.91 1)" font-family="Liberation Sans, sans-serif" font-size="10" fill="#000" stroke="#000" stroke-width="0.2" text-rendering="geometricPrecision" text-anchor="start" >29298.0</text>
<text transform="translate(1609.0 82.0) scale(0.91 1)" font-family="Liberation Sans, sans-serif" font-size="10" fill="#000" stroke="#000" stroke-width="0.2" text-rendering="geometricPrecision" text-anchor="start" >28770.0</text>
<text transform="translate(1609.0 115.0) scale(0.91 1)" font-family="Liberation Sans, sans-serif" font-size="10" fill="#000" stroke="#000" stroke-width="0.2" text-rendering="geometricPrecision" text-anchor="start" >28242.0</text>
<text transform="translate(1609.0 148.0) scale(0.91 1)" font-family="Liberation Sans, sans-serif" font-size="10" fill="#000" stroke="#000" stroke-width="0.2" text-rendering="geometricPrecision" text-anchor="start" >27698.0</text>
<text transform="translate(1609.0 181.0) scale(0.91 1)" font-family="Liberation Sans, sans-serif" font-size="10" fill="#000" stroke="#000" stroke-width="0.2" text-rendering="geometricPrecision" text-anchor="start" >27170.0</text>
<text transform="translate(1609.0 214.0) scale(0.91 1)" font-family="Liberation Sans, sans-serif" font-size="10" fill="#000" stroke="#000" stroke-width="0.2" text-rendering="geometricPrecision" text-anchor="start" >26642.0</text>
<text transform="translate(1609.0 247.0) scale(0.91 1)" font-family="Liberation Sans, sans-serif" font-size="10" fill="#000" stroke="#000" stroke-width="0.2" text-rendering="geometricPrecision" text-anchor="start" >26114.0</text>
<text transform="translate(1609.0 280.0) scale(0.91 1)" font-family="Liberation Sans, sans-serif" font-size="10" fill="#000" stroke="#000" stroke-width="0.2" text-rendering="geometricPrecision" text-anchor="start" >25570.0</text>
<text transform="translate(1609.0 313.0) scale(0.91 1)" font-family="Liberation Sans, sans-serif" font-size="10" fill="#000" stroke="#000" stroke-width="0.2" text-rendering="geometricPrecision" text-anchor="start" >25042.0</text>
<text transform="translate(1609.0 346.0) scale(0.91 1)" font-family="Liberation Sans, sans-serif" font-size="10" fill="#000" stroke="#000" stroke-width="0.2" text-rendering="geometricPrecision" text-anchor="start" >24514.0</text>
<text transform="translate(1609.0 379.0) scale(0.91 1)" font-family="Liberation Sans, sans-serif" font-size="10" fill="#000" stroke="#000" stroke-width="0.2" text-rendering="geometricPrecision" text-anchor="start" >23986.0</text>
<text transform="translate(1609.0 412.0) scale(0.91 1)" font-family="Liberation Sans, sans-serif" font-size="10" fill="#000" stroke="#000" stroke-width="0.2" text-rendering="geometricPrecision" text-anchor="start" >23458.0</text>
<text transform="translate(1609.0 445.0) scale(0.91 1)" font-family="Liberation Sans, sans-serif" font-size="10" fill="#000" stroke="#000" stroke-width="0.2" text-rendering="geometricPrecision" text-anchor="start" >22914.0</text>
<text transform="translate(1609.0 478.0) scale(0.91 1)" font-family="Liberation Sans, sans-serif" font-size="10" fill="#000" stroke="#000" stroke-width="0.2" text-rendering="geometricPrecision" text-anchor="start" >22386.0</text>
<text transform="translate(1609.0 511.0) scale(0.91 1)" font-family="Liberation Sans, sans-serif" font-size="10" fill="#000" stroke="#000" stroke-width="0.2" text-rendering="geometricPrecision" text-anchor="start" >21858.0</text>
<text transform="translate(1609.0 544.0) scale(0.91 1)" font-family="Liberation Sans, sans-serif" font-size="10" fill="#000" stroke="#000" stroke-width="0.2" text-rendering="geometricPrecision" text-anchor="start" >21330.0</text>
<text transform="translate(1609.0 577.0) scale(0.91 1)" font-family="Liberation Sans, sans-serif" font-size="10" fill="#000" stroke="#000" stroke-width="0.2" text-rendering="geometricPrecision" text-anchor="start" >20802.0</text>
<g shape-rendering="crispEdges">
<rect x="1605" y="293" width="41" height="11" fill="#ff0000"/>
<rect x="1605" y="318" width="41" height="11" fill="#ff0000"/>
<rect x="1605" y="343" width="41" height="11" fill="#000000"/>
<rect x="1605" y="359" width="41" height="11" fill="#32cd32"/>
<rect x="1605" y="386" width="41" height="11" fill="#0000ff"/>
<rect x="1605" y="410" width="41" height="11" fill="#0000ff"/>
</g>
<text transform="translate(1609.0 302.0) scale(0.91 1)" font-family="Liberation Sans, sans-serif" font-size="10" fill="#fff" stroke="#fff" stroke-width="0.2" text-rendering="geometricPrecision" text-anchor="start" >25207.1</text>
<text transform="translate(1609.0 327.0) scale(0.91 1)" font-family="Liberation Sans, sans-serif" font-size="10" fill="#fff" stroke="#fff" stroke-width="0.2" text-rendering="geometricPrecision" text-anchor="start" >24805.2</text>
<text transform="translate(1609.0 352.0) scale(0.91 1)" font-family="Liberation Sans, sans-serif" font-size="10" fill="#fff" stroke="#fff" stroke-width="0.2" text-rendering="geometricPrecision" text-anchor="start" >24411.0</text>
<text transform="translate(1609.0 368.0) scale(0.91 1)" font-family="Liberation Sans, sans-serif" font-size="10" fill="#fff" stroke="#fff" stroke-width="0.2" text-rendering="geometricPrecision" text-anchor="start" >24146.1</text>
<text transform="translate(1609.0 395.0) scale(0.91 1)" font-family="Liberation Sans, sans-serif" font-size="10" fill="#fff" stroke="#fff" stroke-width="0.2" text-rendering="geometricPrecision" text-anchor="start" >23712.0</text>
<text transform="translate(1609.0 419.0) scale(0.91 1)" font-family="Liberation Sans, sans-serif" font-size="10" fill="#fff" stroke="#fff" stroke-width="0.2" text-rendering="geometricPrecision" text-anchor="start" >23326.2</text>
<text transform="translate(1607.0 588.5) scale(0.91 1)" font-family="Liberation Sans, sans-serif" font-size="10" fill="#000" stroke="#000" stroke-width="0.2" text-rendering="geometricPrecision" text-anchor="start" >454.5</text>
<text transform="translate(1607.0 629.8) scale(0.91 1)" font-family="Liberation Sans, sans-serif" font-size="10" fill="#000" stroke="#000" stroke-width="0.2" text-rendering="geometricPrecision" text-anchor="start" >0.00</text>
<text transform="translate(1607.0 744.5) scale(0.91 1)" font-family="Liberation Sans, sans-serif" font-size="10" fill="#000" stroke="#000" stroke-width="0.2" text-rendering="geometricPrecision" text-anchor="start" >-1198.58</text>
<text transform="translate(1607.0 761.0) scale(0.91 1)" font-family="Liberation Sans, sans-serif" font-size="10" fill="#000" stroke="#000" stroke-width="0.2" text-rendering="geometricPrecision" text-anchor="start" >100</text>
<text transform="translate(1607.0 789.8) scale(0.91 1)" font-family="Liberation Sans, sans-serif" font-size="10" fill="#000" stroke="#000" stroke-width="0.2" text-rendering="geometricPrecision" text-anchor="start" >80</text>
<text transform="translate(1607.0 840.8) scale(0.91 1)" font-family="Liberation Sans, sans-serif" font-size="10" fill="#000" stroke="#000" stroke-width="0.2" text-rendering="geometricPrecision" text-anchor="start" >50</text>
<text transform="translate(1607.0 901.8) scale(0.91 1)" font-family="Liberation Sans, sans-serif" font-size="10" fill="#000" stroke="#000" stroke-width="0.2" text-rendering="geometricPrecision" text-anchor="start" >15</text>
<text transform="translate(1607.0 921.0) scale(0.91 1)" font-family="Liberation Sans, sans-serif" font-size="10" fill="#000" stroke="#000" stroke-width="0.2" text-rendering="geometricPrecision" text-anchor="start" >0</text>
<text transform="translate(47.0 937.0) scale(0.942 1)" font-family="Liberation Sans, sans-serif" font-size="10" fill="#000" stroke="#000" stroke-width="0.2" text-rendering="geometricPrecision" text-anchor="end" >28 Nov 2019</text>
<text transform="translate(57.0 937.0) scale(0.927 1)" font-family="Liberation Sans, sans-serif" font-size="10" fill="#000" stroke="#000" stroke-width="0.2" text-rendering="geometricPrecision" text-anchor="start" >4 Dec 05:00</text>
<text transform="translate(121.0 937.0) scale(0.927 1)" font-family="Liberation Sans, sans-serif" font-size="10" fill="#000" stroke="#000" stroke-width="0.2" text-rendering="geometricPrecision" text-anchor="start" >10 Dec 05:00</text>
<text transform="translate(185.0 937.0) scale(0.927 1)" font-family="Liberation Sans, sans-serif" font-size="10" fill="#000" stroke="#000" stroke-width="0.2" text-rendering="geometricPrecision" text-anchor="start" >16 Dec 05:00</text>
<text transform="translate(249.0 937.0) scale(0.927 1)" font-family="Liberation Sans, sans-serif" font-size="10" fill="#000" stroke="#000" stroke-width="0.2" text-rendering="geometricPrecision" text-anchor="start" >20 Dec 05:00</text>
<text transform="translate(313.0 937.0) scale(0.927 1)" font-family="Liberation Sans, sans-serif" font-size="10" fill="#000" stroke="#000" stroke-width="0.2" text-rendering="geometricPrecision" text-anchor="start" >31 Dec 01:15</text>
<text transform="translate(377.0 937.0) scale(0.927 1)" font-family="Liberation Sans, sans-serif" font-size="10" fill="#000" stroke="#000" stroke-width="0.2" text-rendering="geometricPrecision" text-anchor="start" >7 Jan 05:00</text>
<text transform="translate(441.0 937.0) scale(0.927 1)" font-family="Liberation Sans, sans-serif" font-size="10" fill="#000" stroke="#000" stroke-width="0.2" text-rendering="geometricPrecision" text-anchor="start" >13 Jan 05:00</text>
<text transform="translate(505.0 937.0) scale(0.927 1)" font-family="Liberation Sans, sans-serif" font-size="10" fill="#000" stroke="#000" stroke-width="0.2" text-rendering="geometricPrecision" text-anchor="start" >17 Jan 05:00</text>
<text transform="translate(569.0 937.0) scale(0.927 1)" font-family="Liberation Sans, sans-serif" font-size="10" fill="#000" stroke="#000" stroke-width="0.2" text-rendering="geometricPrecision" text-anchor="start" >23 Jan 05:00</text>
<text transform="translate(633.0 937.0) scale(0.927 1)" font-family="Liberation Sans, sans-serif" font-size="10" fill="#000" stroke="#000" stroke-width="0.2" text-rendering="geometricPrecision" text-anchor="start" >3 Feb 01:15</text>
<text transform="translate(697.0 937.0) scale(0.927 1)" font-family="Liberation Sans, sans-serif" font-size="10" fill="#000" stroke="#000" stroke-width="0.2" text-rendering="geometricPrecision" text-anchor="start" >7 Feb 01:15</text>
<text transform="translate(761.0 937.0) scale(0.927 1)" font-family="Liberation Sans, sans-serif" font-size="10" fill="#000" stroke="#000" stroke-width="0.2" text-rendering="geometricPrecision" text-anchor="start" >13 Feb 01:15</text>
<text transform="translate(825.0 937.0) scale(0.927 1)" font-family="Liberation Sans, sans-serif" font-size="10" fill="#000" stroke="#000" stroke-width="0.2" text-rendering="geometricPrecision" text-anchor="start" >19 Feb 01:15</text>
<text transform="translate(889.0 937.0) scale(0.927 1)" font-family="Liberation Sans, sans-serif" font-size="10" fill="#000" stroke="#000" stroke-width="0.2" text-rendering="geometricPrecision" text-anchor="start" >25 Feb 01:15</text>
<text transform="translate(953.0 937.0) scale(0.927 1)" font-family="Liberation Sans, sans-serif" font-size="10" fill="#000" stroke="#000" stroke-width="0.2" text-rendering="geometricPrecision" text-anchor="start" >2 Mar 01:15</text>
<text transform="translate(1017.0 937.0) scale(0.927 1)" font-family="Liberation Sans, sans-serif" font-size="10" fill="#000" stroke="#000" stroke-width="0.2" text-rendering="geometricPrecision" text-anchor="start" >6 Mar 01:15</text>
<text transform="translate(1081.0 937.0) scale(0.927 1)" font-family="Liberation Sans, sans-serif" font-size="10" fill="#000" stroke="#000" stroke-width="0.2" text-rendering="geometricPrecision" text-anchor="start" >12 Mar 01:15</text>
<text transform="translate(1145.0 937.0) scale(0.927 1)" font-family="Liberation Sans, sans-serif" font-size="10" fill="#000" stroke="#000" stroke-width="0.2" text-rendering="geometricPrecision" text-anchor="start" >18 Mar 01:15</text>
<text transform="translate(1209.0 937.0) scale(0.927 1)" font-family="Liberation Sans, sans-serif" font-size="10" fill="#000" stroke="#000" stroke-width="0.2" text-rendering="geometricPrecision" text-anchor="start" >24 Mar 01:15</text>
<text transform="translate(1273.0 937.0) scale(0.927 1)" font-family="Liberation Sans, sans-serif" font-size="10" fill="#000" stroke="#000" stroke-width="0.2" text-rendering="geometricPrecision" text-anchor="start" >30 Mar 01:15</text>
<text transform="translate(1337.0 937.0) scale(0.927 1)" font-family="Liberation Sans, sans-serif" font-size="10" fill="#000" stroke="#000" stroke-width="0.2" text-rendering="geometricPrecision" text-anchor="start" >3 Apr 01:15</text>
<text transform="translate(9.0 35.0) scale(1 1)" font-family="Liberation Sans, sans-serif" font-size="10" fill="#000" stroke="#000" stroke-width="0.2" text-rendering="geometricPrecision" text-anchor="start" textLength="188" lengthAdjust="spacingAndGlyphs">HK50-,H4  23851.0 24432.0 23826.0 24411.0</text>
<polygon points="0,30 4,34 0,34" fill="#000"/>
<text transform="translate(-1.5 591.0) scale(1 1)" font-family="Liberation Sans, sans-serif" font-size="10" fill="#000" stroke="#000" stroke-width="0.2" text-rendering="geometricPrecision" text-anchor="start" textLength="120.5" lengthAdjust="spacingAndGlyphs">MACD(12,26,9) 77.62 -90.05</text>
<text transform="translate(-2.5 763.0) scale(1 1)" font-family="Liberation Sans, sans-serif" font-size="10" fill="#000" stroke="#000" stroke-width="0.2" text-rendering="geometricPrecision" text-anchor="start" textLength="68.5" lengthAdjust="spacingAndGlyphs">RSI(14) 60.6439</text>
<g shape-rendering="crispEdges" clip-path="url(#cd)">
<rect x="2" y="626" width="1" height="1" fill="#c0c0c0"/>
<rect x="10" y="626" width="1" height="6" fill="#c0c0c0"/>
<rect x="18" y="626" width="1" height="7" fill="#c0c0c0"/>
<rect x="26" y="626" width="1" height="8" fill="#c0c0c0"/>
<rect x="34" y="626" width="1" height="10" fill="#c0c0c0"/>
<rect x="42" y="626" width="1" height="11" fill="#c0c0c0"/>
<rect x="50" y="626" width="1" height="14" fill="#c0c0c0"/>
<rect x="58" y="626" width="1" height="17" fill="#c0c0c0"/>
<rect x="66" y="626" width="1" height="18" fill="#c0c0c0"/>
<rect x="74" y="626" width="1" height="18" fill="#c0c0c0"/>
<rect x="82" y="626" width="1" height="16" fill="#c0c0c0"/>
<rect x="90" y="626" width="1" height="14" fill="#c0c0c0"/>
<rect x="98" y="626" width="1" height="12" fill="#c0c0c0"/>
<rect x="106" y="626" width="1" height="10" fill="#c0c0c0"/>
<rect x="114" y="626" width="1" height="9" fill="#c0c0c0"/>
<rect x="122" y="626" width="1" height="9" fill="#c0c0c0"/>
<rect x="130" y="626" width="1" height="7" fill="#c0c0c0"/>
<rect x="138" y="626" width="1" height="5" fill="#c0c0c0"/>
<rect x="154" y="624" width="1" height="3" fill="#c0c0c0"/>
<rect x="162" y="616" width="1" height="11" fill="#c0c0c0"/>
<rect x="170" y="609" width="1" height="18" fill="#c0c0c0"/>
<rect x="178" y="605" width="1" height="22" fill="#c0c0c0"/>
<rect x="186" y="602" width="1" height="25" fill="#c0c0c0"/>
<rect x="194" y="598" width="1" height="29" fill="#c0c0c0"/>
<rect x="202" y="595" width="1" height="32" fill="#c0c0c0"/>
<rect x="210" y="593" width="1" height="34" fill="#c0c0c0"/>
<rect x="218" y="592" width="1" height="35" fill="#c0c0c0"/>
<rect x="226" y="592" width="1" height="35" fill="#c0c0c0"/>
<rect x="234" y="592" width="1" height="35" fill="#c0c0c0"/>
<rect x="242" y="592" width="1" height="35" fill="#c0c0c0"/>
<rect x="250" y="592" width="1" height="35" fill="#c0c0c0"/>
<rect x="258" y="592" width="1" height="35" fill="#c0c0c0"/>
<rect x="266" y="594" width="1" height="33" fill="#c0c0c0"/>
<rect x="274" y="595" width="1" height="32" fill="#c0c0c0"/>
<rect x="282" y="593" width="1" height="34" fill="#c0c0c0"/>
<rect x="290" y="591" width="1" height="36" fill="#c0c0c0"/>
<rect x="298" y="589" width="1" height="38" fill="#c0c0c0"/>
<rect x="306" y="589" width="1" height="38" fill="#c0c0c0"/>
<rect x="314" y="590" width="1" height="37" fill="#c0c0c0"/>
<rect x="322" y="589" width="1" height="38" fill="#c0c0c0"/>
<rect x="330" y="588" width="1" height="39" fill="#c0c0c0"/>
<rect x="338" y="589" width="1" height="38" fill="#c0c0c0"/>
<rect x="346" y="590" width="1" height="37" fill="#c0c0c0"/>
<rect x="354" y="593" width="1" height="34" fill="#c0c0c0"/>
<rect x="362" y="596" width="1" height="31" fill="#c0c0c0"/>
<rect x="370" y="597" width="1" height="30" fill="#c0c0c0"/>
<rect x="378" y="599" width="1" height="28" fill="#c0c0c0"/>
<rect x="386" y="602" width="1" height="25" fill="#c0c0c0"/>
<rect x="394" y="606" width="1" height="21" fill="#c0c0c0"/>
<rect x="402" y="606" width="1" height="21" fill="#c0c0c0"/>
<rect x="410" y="605" width="1" height="22" fill="#c0c0c0"/>
<rect x="418" y="604" width="1" height="23" fill="#c0c0c0"/>
<rect x="426" y="604" width="1" height="23" fill="#c0c0c0"/>
<rect x="434" y="602" width="1" height="25" fill="#c0c0c0"/>
<rect x="442" y="599" width="1" height="28" fill="#c0c0c0"/>
<rect x="450" y="598" width="1" height="29" fill="#c0c0c0"/>
<rect x="458" y="599" width="1" height="28" fill="#c0c0c0"/>
<rect x="466" y="601" width="1" height="26" fill="#c0c0c0"/>
<rect x="474" y="602" width="1" height="25" fill="#c0c0c0"/>
<rect x="482" y="603" width="1" height="24" fill="#c0c0c0"/>
<rect x="490" y="603" width="1" height="24" fill="#c0c0c0"/>
<rect x="498" y="604" width="1" height="23" fill="#c0c0c0"/>
<rect x="506" y="603" width="1" height="24" fill="#c0c0c0"/>
<rect x="514" y="603" width="1" height="24" fill="#c0c0c0"/>
<rect x="522" y="606" width="1" height="21" fill="#c0c0c0"/>
<rect x="530" y="613" width="1" height="14" fill="#c0c0c0"/>
<rect x="538" y="620" width="1" height="7" fill="#c0c0c0"/>
<rect x="546" y="624" width="1" height="3" fill="#c0c0c0"/>
<rect x="554" y="626" width="1" height="1" fill="#c0c0c0"/>
<rect x="562" y="626" width="1" height="4" fill="#c0c0c0"/>
<rect x="570" y="626" width="1" height="8" fill="#c0c0c0"/>
<rect x="578" y="626" width="1" height="11" fill="#c0c0c0"/>
<rect x="586" y="626" width="1" height="19" fill="#c0c0c0"/>
<rect x="594" y="626" width="1" height="24" fill="#c0c0c0"/>
<rect x="602" y="626" width="1" height="34" fill="#c0c0c0"/>
<rect x="610" y="626" width="1" height="43" fill="#c0c0c0"/>
<rect x="618" y="626" width="1" height="48" fill="#c0c0c0"/>
<rect x="626" y="626" width="1" height="53" fill="#c0c0c0"/>
<rect x="634" y="626" width="1" height="57" fill="#c0c0c0"/>
<rect x="642" y="626" width="1" height="59" fill="#c0c0c0"/>
<rect x="650" y="626" width="1" height="58" fill="#c0c0c0"/>
<rect x="658" y="626" width="1" height="54" fill="#c0c0c0"/>
<rect x="666" y="626" width="1" height="51" fill="#c0c0c0"/>
<rect x="674" y="626" width="1" height="48" fill="#c0c0c0"/>
<rect x="682" y="626" width="1" height="41" fill="#c0c0c0"/>
<rect x="690" y="626" width="1" height="34" fill="#c0c0c0"/>
<rect x="698" y="626" width="1" height="28" fill="#c0c0c0"/>
<rect x="706" y="626" width="1" height="24" fill="#c0c0c0"/>
<rect x="714" y="626" width="1" height="22" fill="#c0c0c0"/>
<rect x="722" y="626" width="1" height="20" fill="#c0c0c0"/>
<rect x="730" y="626" width="1" height="14" fill="#c0c0c0"/>
<rect x="738" y="626" width="1" height="10" fill="#c0c0c0"/>
<rect x="746" y="626" width="1" height="4" fill="#c0c0c0"/>
<rect x="754" y="626" width="1" height="1" fill="#c0c0c0"/>
<rect x="762" y="625" width="1" height="2" fill="#c0c0c0"/>
<rect x="770" y="623" width="1" height="4" fill="#c0c0c0"/>
<rect x="778" y="620" width="1" height="7" fill="#c0c0c0"/>
<rect x="786" y="619" width="1" height="8" fill="#c0c0c0"/>
<rect x="794" y="616" width="1" height="11" fill="#c0c0c0"/>
<rect x="802" y="615" width="1" height="12" fill="#c0c0c0"/>
<rect x="810" y="617" width="1" height="10" fill="#c0c0c0"/>
<rect x="818" y="619" width="1" height="8" fill="#c0c0c0"/>
<rect x="826" y="620" width="1" height="7" fill="#c0c0c0"/>
<rect x="834" y="620" width="1" height="7" fill="#c0c0c0"/>
<rect x="842" y="623" width="1" height="4" fill="#c0c0c0"/>
<rect x="850" y="624" width="1" height="3" fill="#c0c0c0"/>
<rect x="858" y="626" width="1" height="1" fill="#c0c0c0"/>
<rect x="866" y="626" width="1" height="1" fill="#c0c0c0"/>
<rect x="874" y="626" width="1" height="7" fill="#c0c0c0"/>
<rect x="882" y="626" width="1" height="12" fill="#c0c0c0"/>
<rect x="890" y="626" width="1" height="14" fill="#c0c0c0"/>
<rect x="898" y="626" width="1" height="16" fill="#c0c0c0"/>
<rect x="906" y="626" width="1" height="20" fill="#c0c0c0"/>
<rect x="914" y="626" width="1" height="22" fill="#c0c0c0"/>
<rect x="922" y="626" width="1" height="24" fill="#c0c0c0"/>
<rect x="930" y="626" width="1" height="24" fill="#c0c0c0"/>
<rect x="938" y="626" width="1" height="28" fill="#c0c0c0"/>
<rect x="946" y="626" width="1" height="31" fill="#c0c0c0"/>
<rect x="954" y="626" width="1" height="31" fill="#c0c0c0"/>
<rect x="962" y="626" width="1" height="31" fill="#c0c0c0"/>
<rect x="970" y="626" width="1" height="30" fill="#c0c0c0"/>
<rect x="978" y="626" width="1" height="28" fill="#c0c0c0"/>
<rect x="986" y="626" width="1" height="30" fill="#c0c0c0"/>
<rect x="994" y="626" width="1" height="28" fill="#c0c0c0"/>
<rect x="1002" y="626" width="1" height="27" fill="#c0c0c0"/>
<rect x="1010" y="626" width="1" height="23" fill="#c0c0c0"/>
<rect x="1018" y="626" width="1" height="24" fill="#c0c0c0"/>
<rect x="1026" y="626" width="1" height="24" fill="#c0c0c0"/>
<rect x="1034" y="626" width="1" height="33" fill="#c0c0c0"/>
<rect x="1042" y="626" width="1" height="42" fill="#c0c0c0"/>
<rect x="1050" y="626" width="1" height="42" fill="#c0c0c0"/>
<rect x="1058" y="626" width="1" height="43" fill="#c0c0c0"/>
<rect x="1066" y="626" width="1" height="43" fill="#c0c0c0"/>
<rect x="1074" y="626" width="1" height="45" fill="#c0c0c0"/>
<rect x="1082" y="626" width="1" height="54" fill="#c0c0c0"/>
<rect x="1090" y="626" width="1" height="61" fill="#c0c0c0"/>
<rect x="1098" y="626" width="1" height="76" fill="#c0c0c0"/>
<rect x="1106" y="626" width="1" height="78" fill="#c0c0c0"/>
<rect x="1114" y="626" width="1" height="83" fill="#c0c0c0"/>
<rect x="1122" y="626" width="1" height="91" fill="#c0c0c0"/>
<rect x="1130" y="626" width="1" height="92" fill="#c0c0c0"/>
<rect x="1138" y="626" width="1" height="94" fill="#c0c0c0"/>
<rect x="1146" y="626" width="1" height="93" fill="#c0c0c0"/>
<rect x="1154" y="626" width="1" height="100" fill="#c0c0c0"/>
<rect x="1162" y="626" width="1" height="110" fill="#c0c0c0"/>
<rect x="1170" y="626" width="1" height="114" fill="#c0c0c0"/>
<rect x="1178" y="626" width="1" height="110" fill="#c0c0c0"/>
<rect x="1186" y="626" width="1" height="101" fill="#c0c0c0"/>
<rect x="1194" y="626" width="1" height="102" fill="#c0c0c0"/>
<rect x="1202" y="626" width="1" height="103" fill="#c0c0c0"/>
<rect x="1210" y="626" width="1" height="97" fill="#c0c0c0"/>
<rect x="1218" y="626" width="1" height="88" fill="#c0c0c0"/>
<rect x="1226" y="626" width="1" height="77" fill="#c0c0c0"/>
<rect x="1234" y="626" width="1" height="64" fill="#c0c0c0"/>
<rect x="1242" y="626" width="1" height="53" fill="#c0c0c0"/>
<rect x="1250" y="626" width="1" height="47" fill="#c0c0c0"/>
<rect x="1258" y="626" width="1" height="38" fill="#c0c0c0"/>
<rect x="1266" y="626" width="1" height="32" fill="#c0c0c0"/>
<rect x="1274" y="626" width="1" height="29" fill="#c0c0c0"/>
<rect x="1282" y="626" width="1" height="28" fill="#c0c0c0"/>
<rect x="1290" y="626" width="1" height="23" fill="#c0c0c0"/>
<rect x="1298" y="626" width="1" height="17" fill="#c0c0c0"/>
<rect x="1306" y="626" width="1" height="14" fill="#c0c0c0"/>
<rect x="1314" y="626" width="1" height="16" fill="#c0c0c0"/>
<rect x="1322" y="626" width="1" height="16" fill="#c0c0c0"/>
<rect x="1330" y="626" width="1" height="14" fill="#c0c0c0"/>
<rect x="1338" y="626" width="1" height="14" fill="#c0c0c0"/>
<rect x="1346" y="626" width="1" height="13" fill="#c0c0c0"/>
<rect x="1354" y="626" width="1" height="9" fill="#c0c0c0"/>
<rect x="1362" y="626" width="1" height="4" fill="#c0c0c0"/>
<rect x="1378" y="619" width="1" height="8" fill="#c0c0c0"/>
<polyline points="-6.0,627.4 18.0,627.4 26.0,628.0 34.5,629.2 42.7,630.0 51.0,632.8 58.0,633.7 66.4,636.3 74.5,638.6 82.0,639.9 91.0,640.0 123.6,640.0 134.5,638.3 142.0,635.9 151.0,634.0 158.0,632.0 163.6,630.0 170.0,627.7 178.0,623.5 186.4,619.5 193.6,616.0 202.0,612.0 211.0,606.8 218.0,603.2 226.4,599.0 234.5,597.7 242.7,595.4 251.0,593.2 258.0,592.3 291.0,592.3 300.0,591.2 314.5,591.4 321.8,590.5 336.4,589.5 363.6,589.5 368.0,590.5 380.0,591.4 386.4,593.2 392.7,594.5 398.0,596.5 403.6,597.4 409.0,598.3 416.4,599.5 427.3,601.4 434.5,602.3 458.0,602.3 467.3,601.7 481.8,600.5 509.0,600.5 512.7,601.7 523.6,602.6 534.5,604.1 541.8,606.3 549.0,608.6 554.5,610.5 560.0,612.6 565.5,614.5 571.0,617.7 578.0,620.8 583.6,624.0 589.0,628.0 596.4,632.3 600.0,635.0 607.3,639.9 613.6,644.1 619.0,648.1 625.5,652.6 631.8,657.4 637.3,661.4 643.6,666.3 649.0,669.5 655.5,673.2 661.0,675.4 667.3,677.4 672.7,678.3 685.5,678.3 691.0,677.2 698.2,674.1 703.6,671.4 709.0,669.0 715.5,665.5 721.8,662.6 728.2,659.5 733.6,656.3 739.0,652.8 745.5,649.0 751.8,645.5 757.3,642.8 763.6,639.5 770.0,636.5 775.5,634.5 781.8,631.7 787.3,629.2 793.6,626.3 800.0,624.5 805.5,622.6 811.0,621.4 816.4,619.5 823.6,618.6 854.5,618.6 865.5,620.1 871.8,622.3 877.3,624.1 883.6,625.4 890.0,627.2 895.5,629.0 900.0,630.5 907.3,633.5 913.6,636.3 920.0,638.6 925.5,640.5 931.8,642.8 937.3,645.4 943.6,646.5 950.0,648.3 956.4,650.0 961.8,651.4 968.2,652.6 973.6,653.5 980.0,654.5 985.5,655.4 998.0,655.4 1003.6,656.3 1009.0,655.4 1016.4,654.5 1034.5,654.5 1040.0,655.4 1051.8,656.5 1058.2,658.6 1064.5,659.5 1070.0,661.4 1075.5,662.8 1081.8,665.4 1087.3,667.7 1093.6,671.4 1099.0,675.9 1105.5,679.5 1111.8,682.8 1117.3,686.3 1123.6,691.0 1130.0,694.6 1135.5,699.0 1141.8,703.2 1147.3,707.2 1153.6,710.5 1160.0,715.0 1165.5,718.6 1171.8,721.7 1177.3,724.6 1183.6,726.3 1190.0,727.4 1195.5,728.6 1201.8,729.2 1208.2,730.5 1212.7,730.5 1219.0,729.0 1226.4,727.4 1231.8,723.2 1237.3,719.5 1243.6,714.6 1249.0,709.0 1255.5,703.2 1261.8,697.2 1267.3,692.6 1273.6,685.5 1279.0,680.5 1284.5,675.0 1291.0,669.2 1297.3,664.0 1302.7,659.5 1308.2,655.5 1314.5,653.2 1320.0,651.4 1326.4,648.3 1331.8,646.5 1339.0,645.4 1344.5,643.5 1351.0,642.3 1356.4,640.5 1362.7,639.0 1368.2,637.7 1378.0,636.2" fill="none" stroke="#ff0000" stroke-width="0.9" stroke-dasharray="3 3"/>
</g>
<g shape-rendering="crispEdges" clip-path="url(#cr)">
<line x1="1" y1="786.5" x2="1603" y2="786.5" stroke="#c0c0c0" stroke-width="1" stroke-dasharray="3 3"/>
<line x1="1" y1="837.5" x2="1603" y2="837.5" stroke="#c0c0c0" stroke-width="1" stroke-dasharray="3 3"/>
<line x1="1" y1="898.5" x2="1603" y2="898.5" stroke="#c0c0c0" stroke-width="1" stroke-dasharray="3 3"/>
<polyline points="-5.5,850.0 2.5,858.2 10.5,860.4 18.5,851.3 26.5,852.4 34.5,853.6 42.5,856.4 50.5,867.3 58.5,868.5 66.5,862.2 74.5,856.4 82.5,844.0 90.5,840.4 98.5,840.4 106.5,840.4 114.5,840.4 122.5,846.4 130.5,836.9 138.5,830.5 146.5,812.4 154.5,815.5 162.5,797.3 170.5,794.2 178.5,802.4 186.5,802.4 194.5,795.5 202.5,797.3 210.5,796.0 218.5,794.2 226.5,807.3 234.5,805.5 242.5,801.5 250.5,801.5 258.5,803.3 266.5,808.2 274.5,804.2 282.5,793.6 290.5,793.3 298.5,788.5 306.5,795.5 314.5,805.1 322.5,797.6 330.5,796.4 338.5,800.4 346.5,808.2 354.5,817.3 362.5,826.4 370.5,815.1 378.5,819.1 386.5,832.7 394.5,837.3 402.5,820.0 410.5,815.5 418.5,814.5 426.5,813.3 434.5,805.5 442.5,804.2 450.5,805.5 458.5,815.1 466.5,821.3 474.5,819.1 482.5,817.3 490.5,813.6 498.5,813.6 506.5,806.4 514.5,815.5 522.5,831.8 530.5,856.4 538.5,863.1 546.5,849.5 554.5,844.5 562.5,858.5 570.5,859.6 578.5,856.4 586.5,872.2 594.5,875.1 602.5,881.8 610.5,886.0 618.5,880.0 626.5,884.5 634.5,882.2 642.5,883.3 650.5,865.8 658.5,858.2 666.5,859.5 674.5,859.5 682.5,838.5 690.5,835.1 698.5,841.3 706.5,839.5 714.5,844.2 722.5,844.2 730.5,829.5 738.5,828.2 746.5,824.0 754.5,822.2 762.5,825.1 770.5,827.3 778.5,821.3 786.5,825.1 794.5,820.0 802.5,822.2 810.5,838.2 818.5,841.5 826.5,835.1 834.5,835.1 842.5,846.4 850.5,841.3 858.5,844.9 866.5,850.0 874.5,864.5 882.5,867.6 890.5,864.0 898.5,862.4 906.5,866.4 914.5,868.2 922.5,871.3 930.5,858.7 938.5,874.2 946.5,870.0 954.5,861.3 962.5,863.1 970.5,854.5 978.5,859.5 986.5,859.5 994.5,864.0 1002.5,847.3 1010.5,838.2 1018.5,857.3 1026.5,859.1 1034.5,876.0 1042.5,880.0 1050.5,858.5 1058.5,859.6 1066.5,861.3 1074.5,864.9 1082.5,879.1 1090.5,880.4 1098.5,890.9 1106.5,864.9 1114.5,869.1 1122.5,876.0 1130.5,865.5 1138.5,867.3 1146.5,863.6 1154.5,875.5 1162.5,880.0 1170.5,869.1 1178.5,860.9 1186.5,849.6 1194.5,860.4 1202.5,864.2 1210.5,850.5 1218.5,847.6 1226.5,842.7 1234.5,836.4 1242.5,837.6 1250.5,841.3 1258.5,835.1 1266.5,837.3 1274.5,840.9 1282.5,844.2 1290.5,838.5 1298.5,833.6 1306.5,839.1 1314.5,845.1 1322.5,843.3 1330.5,839.5 1338.5,842.2 1346.5,840.4 1354.5,834.0 1362.5,830.4 1370.5,829.1 1378.5,820.0" fill="none" stroke="#1e90ff" stroke-width="0.9" />
</g>
<g id="panel">
<rect x="0" y="43" width="216" height="64" fill="#b00000" shape-rendering="crispEdges"/>
<rect x="0" y="43" width="49" height="25" fill="url(#gr1)" shape-rendering="crispEdges"/>
<rect x="164" y="43" width="52" height="25" fill="url(#gr1)" shape-rendering="crispEdges"/>
<rect x="0" y="67" width="106" height="40" fill="url(#gr2)" shape-rendering="crispEdges"/>
<rect x="108" y="67" width="108" height="40" fill="url(#gr2)" shape-rendering="crispEdges"/>
<rect x="106" y="67" width="2" height="40" fill="#fff6f6" shape-rendering="crispEdges"/>
<rect x="0" y="43" width="216" height="1" fill="#b40808" shape-rendering="crispEdges"/><rect x="48" y="43" width="1" height="25" fill="#b40808" shape-rendering="crispEdges"/><rect x="164" y="43" width="1" height="25" fill="#b40808" shape-rendering="crispEdges"/>
<rect x="215" y="43" width="1" height="64" fill="#b01010" shape-rendering="crispEdges"/>
<rect x="1" y="66" width="44" height="1" fill="#980000" shape-rendering="crispEdges"/><rect x="1" y="67" width="44" height="1" fill="#f46464" shape-rendering="crispEdges"/>
<rect x="168" y="66" width="44" height="1" fill="#980000" shape-rendering="crispEdges"/><rect x="168" y="67" width="44" height="1" fill="#f46464" shape-rendering="crispEdges"/>
<rect x="49" y="43" width="115" height="24" fill="#fff" shape-rendering="crispEdges"/>
<rect x="51.5" y="43.5" width="110" height="21" fill="#fff" stroke="#b4b4c0" stroke-width="1" shape-rendering="crispEdges"/>
<rect x="52" y="44" width="20" height="20" fill="url(#gb)" shape-rendering="crispEdges"/>
<rect x="141" y="44" width="20" height="20" fill="url(#gb)" shape-rendering="crispEdges"/>
<rect x="72" y="44" width="1" height="20" fill="#b4b4c0" shape-rendering="crispEdges"/>
<rect x="140" y="44" width="1" height="20" fill="#b4b4c0" shape-rendering="crispEdges"/>
<polygon points="59,52 64,52 61.5,55" fill="#4a5ab0"/>
<polygon points="148,55 153,55 150.5,52" fill="#4a5ab0"/>
<text x="137" y="58" font-family="Liberation Sans, sans-serif" font-size="12" fill="#000" text-anchor="end">1.00</text>
<text x="9.3" y="59.2" font-family="Liberation Sans, sans-serif" font-size="12.4" fill="#fff" textLength="25.6" lengthAdjust="spacingAndGlyphs">SELL</text>
<text x="177.6" y="59.2" font-family="Liberation Sans, sans-serif" font-size="12.4" fill="#fff" textLength="23" lengthAdjust="spacingAndGlyphs">BUY</text>
<text x="13" y="98" font-family="Liberation Sans, sans-serif" font-size="12" font-weight="700" fill="#fff" textLength="34.5" lengthAdjust="spacingAndGlyphs">24409</text>
<text x="49.8" y="98.3" font-family="Liberation Sans, sans-serif" font-size="34" fill="#fff">.</text>
<text x="58.5" y="98.3" font-family="Liberation Sans, sans-serif" font-size="35.2" fill="#fff" textLength="16.2" lengthAdjust="spacingAndGlyphs">5</text>
<text x="123.2" y="98" font-family="Liberation Sans, sans-serif" font-size="12" font-weight="700" fill="#fff" textLength="34.5" lengthAdjust="spacingAndGlyphs">24428</text>
<text x="161.3" y="98.3" font-family="Liberation Sans, sans-serif" font-size="34" fill="#fff">.</text>
<text x="170" y="98.3" font-family="Liberation Sans, sans-serif" font-size="35.2" fill="#fff" textLength="16.2" lengthAdjust="spacingAndGlyphs">5</text>
</g>

<g id="toolbar">
<defs>
<linearGradient id="tg_gold" x1="0" y1="0" x2="1" y2="1"><stop offset="0" stop-color="#fbe25a"/><stop offset="0.6" stop-color="#e0a818"/><stop offset="1" stop-color="#a86a10"/></linearGradient>
<linearGradient id="tg_grn" x1="0" y1="0" x2="1" y2="0"><stop offset="0" stop-color="#19b219"/><stop offset="0.5" stop-color="#7df57d"/><stop offset="1" stop-color="#19b219"/></linearGradient>
<linearGradient id="tg_blu" x1="0" y1="0" x2="0" y2="1"><stop offset="0" stop-color="#1a3cb8"/><stop offset="1" stop-color="#4a82f0"/></linearGradient>
<linearGradient id="tg_g2" x1="0" y1="0" x2="0" y2="1"><stop offset="0" stop-color="#3c8c14"/><stop offset="1" stop-color="#6ab828"/></linearGradient>
<radialGradient id="tg_lens" cx="0.4" cy="0.35" r="0.7"><stop offset="0" stop-color="#eefaff"/><stop offset="1" stop-color="#a8d8f4"/></radialGradient>
<pattern id="tg_dot" width="2" height="2" patternUnits="userSpaceOnUse"><rect width="2" height="2" fill="#fbfbfb"/><rect width="1" height="1" fill="#eeeeee"/><rect x="1" y="1" width="1" height="1" fill="#eeeeee"/></pattern>
</defs>
<rect x="0" y="0" width="1650" height="19" fill="#f0f0f0" shape-rendering="crispEdges"/>
<rect x="0" y="19" width="1650" height="1" fill="#9a9a9a" shape-rendering="crispEdges"/>
<rect x="0" y="20" width="1650" height="1" fill="#646464" shape-rendering="crispEdges"/>
<rect x="0" y="21" width="1650" height="2" fill="#ffffff" shape-rendering="crispEdges"/>
<rect x="239" y="0" width="24" height="17" fill="url(#tg_dot)" shape-rendering="crispEdges"/>
<rect x="391" y="0" width="24" height="17" fill="url(#tg_dot)" shape-rendering="crispEdges"/>
<rect x="419" y="0" width="24" height="17" fill="url(#tg_dot)" shape-rendering="crispEdges"/>
<rect x="579" y="0" width="24" height="17" fill="url(#tg_dot)" shape-rendering="crispEdges"/>
<rect x="1025" y="0" width="24" height="17" fill="url(#tg_dot)" shape-rendering="crispEdges"/>
<rect x="200" y="0" width="1" height="19" fill="#8c8c8c" shape-rendering="crispEdges"/>
<rect x="201" y="0" width="1" height="19" fill="#fbfbfb" shape-rendering="crispEdges"/>
<rect x="238" y="0" width="1" height="17" fill="#8c8c8c" shape-rendering="crispEdges"/>
<rect x="295" y="0" width="1" height="17" fill="#8c8c8c" shape-rendering="crispEdges"/>
<rect x="385" y="0" width="1" height="17" fill="#8c8c8c" shape-rendering="crispEdges"/>
<rect x="390" y="0" width="1" height="17" fill="#8c8c8c" shape-rendering="crispEdges"/>
<rect x="418" y="0" width="1" height="17" fill="#8c8c8c" shape-rendering="crispEdges"/>
<rect x="447" y="0" width="1" height="17" fill="#8c8c8c" shape-rendering="crispEdges"/>
<rect x="635" y="0" width="1" height="17" fill="#8c8c8c" shape-rendering="crispEdges"/>
<rect x="1024" y="0" width="1" height="17" fill="#8c8c8c" shape-rendering="crispEdges"/>
<rect x="568" y="0" width="1" height="19" fill="#8c8c8c" shape-rendering="crispEdges"/>
<rect x="569" y="0" width="1" height="19" fill="#fbfbfb" shape-rendering="crispEdges"/>
<rect x="874" y="0" width="1" height="19" fill="#8c8c8c" shape-rendering="crispEdges"/>
<rect x="875" y="0" width="1" height="19" fill="#fbfbfb" shape-rendering="crispEdges"/>
<rect x="1135" y="0" width="1" height="19" fill="#8c8c8c" shape-rendering="crispEdges"/>
<rect x="1136" y="0" width="1" height="19" fill="#fbfbfb" shape-rendering="crispEdges"/>
<rect x="204" y="1" width="3" height="1" fill="#a8a8a8" shape-rendering="crispEdges"/>
<rect x="204" y="3" width="3" height="1" fill="#a8a8a8" shape-rendering="crispEdges"/>
<rect x="204" y="5" width="3" height="1" fill="#a8a8a8" shape-rendering="crispEdges"/>
<rect x="204" y="7" width="3" height="1" fill="#a8a8a8" shape-rendering="crispEdges"/>
<rect x="204" y="9" width="3" height="1" fill="#a8a8a8" shape-rendering="crispEdges"/>
<rect x="204" y="11" width="3" height="1" fill="#a8a8a8" shape-rendering="crispEdges"/>
<rect x="204" y="13" width="3" height="1" fill="#a8a8a8" shape-rendering="crispEdges"/>
<rect x="204" y="15" width="3" height="1" fill="#a8a8a8" shape-rendering="crispEdges"/>
<rect x="572" y="1" width="3" height="1" fill="#a8a8a8" shape-rendering="crispEdges"/>
<rect x="572" y="3" width="3" height="1" fill="#a8a8a8" shape-rendering="crispEdges"/>
<rect x="572" y="5" width="3" height="1" fill="#a8a8a8" shape-rendering="crispEdges"/>
<rect x="572" y="7" width="3" height="1" fill="#a8a8a8" shape-rendering="crispEdges"/>
<rect x="572" y="9" width="3" height="1" fill="#a8a8a8" shape-rendering="crispEdges"/>
<rect x="572" y="11" width="3" height="1" fill="#a8a8a8" shape-rendering="crispEdges"/>
<rect x="572" y="13" width="3" height="1" fill="#a8a8a8" shape-rendering="crispEdges"/>
<rect x="572" y="15" width="3" height="1" fill="#a8a8a8" shape-rendering="crispEdges"/>
<rect x="878" y="1" width="3" height="1" fill="#a8a8a8" shape-rendering="crispEdges"/>
<rect x="878" y="3" width="3" height="1" fill="#a8a8a8" shape-rendering="crispEdges"/>
<rect x="878" y="5" width="3" height="1" fill="#a8a8a8" shape-rendering="crispEdges"/>
<rect x="878" y="7" width="3" height="1" fill="#a8a8a8" shape-rendering="crispEdges"/>
<rect x="878" y="9" width="3" height="1" fill="#a8a8a8" shape-rendering="crispEdges"/>
<rect x="878" y="11" width="3" height="1" fill="#a8a8a8" shape-rendering="crispEdges"/>
<rect x="878" y="13" width="3" height="1" fill="#a8a8a8" shape-rendering="crispEdges"/>
<rect x="878" y="15" width="3" height="1" fill="#a8a8a8" shape-rendering="crispEdges"/>
<text x="-6.6" y="10" font-family="Liberation Sans, Noto Sans CJK SC, sans-serif" font-size="12" fill="#000">新订单</text>
<text x="145.2" y="10.5" font-family="Liberation Sans, Noto Sans CJK SC, sans-serif" font-size="12" fill="#000" textLength="48" lengthAdjust="spacing">自动交易</text>
<polygon points="41,9 49,15.2 57.4,9.4 57,8.2 49,13.6 41.4,8.4" fill="#9a6410"/>
<polygon points="47.2,-1.4 57,8.4 49,14 41,8.8" fill="url(#tg_gold)" stroke="#b07a14" stroke-width="0.7"/>
<polyline points="42.4,9.6 49,14.4 56.4,9.4" fill="none" stroke="#fff2b0" stroke-width="0.7" opacity="0.9"/>
<polyline points="45,3 52.6,10.4" fill="none" stroke="#fff6c0" stroke-width="1.6" opacity="0.55"/>
<rect x="71" y="-1" width="11" height="10" fill="#1e8cf4" stroke="#1a6ad0" stroke-width="0.6"/>
<rect x="71.4" y="-1" width="3" height="10" fill="#56b0ff"/>
<rect x="75.6" y="2.4" width="5.4" height="1.4" fill="#e4f2ff"/>
<path d="M72,14.6 a3.1,3.1 0 0 1 -0.6,-6 a3.4,3.4 0 0 1 6,-1.6 a3.2,3.2 0 0 1 5.4,2.2 a2.7,2.7 0 0 1 0.2,5.4 z" fill="#f0f3fa" stroke="#5c7cb8" stroke-width="0.9"/>
<path d="M71,13 q6,2 13,0" fill="none" stroke="#b8c6e0" stroke-width="1"/>
<path d="M105,6.9 L105,14.8 A7.9,7.9 0 0 0 112.9,6.9 A7.9,7.9 0 0 0 108,-0.4 Z" fill="#a8d4a8" opacity="0.75"/>
<path d="M105.2,14.6 A7.7,7.7 0 0 1 105.2,-0.8" fill="none" stroke="#88a8e4" stroke-width="0.9"/>
<path d="M105.2,12 A5.1,5.1 0 0 1 105.2,1.8" fill="none" stroke="#4a78d8" stroke-width="1"/>
<path d="M105.2,9.6 A2.7,2.7 0 0 1 105.2,4.2 A2.7,2.7 0 0 1 107.8,6.9" fill="none" stroke="#2a5ad0" stroke-width="1"/>
<path d="M105.2,-0.8 A7.7,7.7 0 0 1 112.8,6.9" fill="none" stroke="#c0d0e8" stroke-width="0.8"/>
<circle cx="105.1" cy="6.9" r="1.3" fill="#2448c8"/>
<line x1="105.4" y1="7.6" x2="105.4" y2="14.8" stroke="#18a818" stroke-width="1.4"/>
<polygon points="124.6,6 139.4,6 135.6,12 133,14.8 130,12.6" fill="#f6d848" stroke="#c89c1c" stroke-width="0.6"/>
<ellipse cx="132" cy="3.8" rx="8" ry="2.7" fill="#5aa8e6" stroke="#3a88cc" stroke-width="0.5"/>
<path d="M128.4,3 Q130,-3 132,-4 Q134,-3 135.6,3 Z" fill="#6ab4ec"/>
<circle cx="136.6" cy="10.9" r="4.2" fill="#d81c0c"/>
<circle cx="136.6" cy="10.9" r="3.6" fill="none" stroke="#f06050" stroke-width="0.5"/>
<rect x="135" y="9.3" width="3.2" height="3.2" fill="#fff"/>
<g stroke="#555" stroke-width="1.2" fill="none"><line x1="218.4" y1="1.6" x2="218.4" y2="14.8"/><line x1="216.0" y1="12.6" x2="229.0" y2="12.6"/></g>
<polygon points="218.4,0.6 216.6,3.4 220.2,3.4" fill="#555"/>
<polygon points="230.2,12.6 227.4,10.8 227.4,14.4" fill="#555"/>
<path d="M222.4,9.6 H224.6 V3.4 H226.8" fill="none" stroke="#18a018" stroke-width="1.3"/>
<g stroke="#555" stroke-width="1.2" fill="none"><line x1="246.4" y1="1.6" x2="246.4" y2="14.8"/><line x1="244.0" y1="12.6" x2="257.0" y2="12.6"/></g>
<polygon points="246.4,0.6 244.6,3.4 248.2,3.4" fill="#555"/>
<polygon points="258.2,12.6 255.4,10.8 255.4,14.4" fill="#555"/>
<line x1="252.6" y1="0" x2="252.6" y2="10.6" stroke="#108010" stroke-width="1.2"/>
<rect x="250.3" y="1.6" width="4.6" height="7" fill="url(#tg_grn)" stroke="#108010" stroke-width="0.7"/>
<g stroke="#555" stroke-width="1.2" fill="none"><line x1="274.4" y1="1.6" x2="274.4" y2="14.8"/><line x1="272.0" y1="12.6" x2="285.0" y2="12.6"/></g>
<polygon points="274.4,0.6 272.6,3.4 276.2,3.4" fill="#555"/>
<polygon points="286.2,12.6 283.4,10.8 283.4,14.4" fill="#555"/>
<path d="M273,9.6 Q277,4 279.4,4.4 Q282,5.6 284.6,8" fill="none" stroke="#2a9a2a" stroke-width="1.2"/>
<line x1="314.4" y1="9" x2="319.0" y2="13.6" stroke="#a07810" stroke-width="3.6" stroke-linecap="round"/>
<line x1="314.6" y1="9.2" x2="318.8" y2="13.4" stroke="#f0d040" stroke-width="2" stroke-linecap="round"/>
<circle cx="310.0" cy="4.8" r="5.6" fill="url(#tg_lens)" stroke="#3a80cc" stroke-width="1.1"/>
<line x1="307.0" y1="4.8" x2="313.0" y2="4.8" stroke="#3a80b8" stroke-width="1.7"/>
<line x1="310.0" y1="1.8" x2="310.0" y2="7.8" stroke="#3a80b8" stroke-width="1.7"/>
<line x1="342.4" y1="9" x2="347.0" y2="13.6" stroke="#a07810" stroke-width="3.6" stroke-linecap="round"/>
<line x1="342.6" y1="9.2" x2="346.8" y2="13.4" stroke="#f0d040" stroke-width="2" stroke-linecap="round"/>
<circle cx="338.0" cy="4.8" r="5.6" fill="url(#tg_lens)" stroke="#3a80cc" stroke-width="1.1"/>
<line x1="335.0" y1="4.8" x2="341.0" y2="4.8" stroke="#3a80b8" stroke-width="1.7"/>
<rect x="360.0" y="-1.0" width="7.6" height="7.6" fill="url(#tg_g2)"/>
<rect x="361.0" y="2.0" width="5.6" height="3.4" fill="#f0f4ff"/>
<rect x="362.0" y="3.2" width="3.6" height="1" fill="#a8c0e8"/>
<rect x="368.0" y="-1.0" width="7.6" height="7.6" fill="url(#tg_blu)"/>
<rect x="369.0" y="2.0" width="5.6" height="3.4" fill="#f0f4ff"/>
<rect x="370.0" y="3.2" width="3.6" height="1" fill="#a8c0e8"/>
<rect x="360.0" y="7.0" width="7.6" height="7.6" fill="url(#tg_blu)"/>
<rect x="361.0" y="10.0" width="5.6" height="3.4" fill="#f0f4ff"/>
<rect x="362.0" y="11.2" width="3.6" height="1" fill="#a8c0e8"/>
<rect x="368.0" y="7.0" width="7.6" height="7.6" fill="url(#tg_g2)"/>
<rect x="369.0" y="10.0" width="5.6" height="3.4" fill="#f0f4ff"/>
<rect x="370.0" y="11.2" width="3.6" height="1" fill="#a8c0e8"/>
<g stroke="#555" stroke-width="1.2" fill="none"><line x1="398.4" y1="1.6" x2="398.4" y2="14.8"/><line x1="396.0" y1="12.6" x2="409.0" y2="12.6"/></g>
<polygon points="398.4,0.6 396.6,3.4 400.2,3.4" fill="#555"/>
<polygon points="410.2,12.6 407.4,10.8 407.4,14.4" fill="#555"/>
<polygon points="403.2,3 403.2,10 407,6.5" fill="#7fe07f" stroke="#18a018" stroke-width="1"/>
<g stroke="#555" stroke-width="1.2" fill="none"><line x1="426.4" y1="1.6" x2="426.4" y2="14.8"/><line x1="424.0" y1="12.6" x2="437.0" y2="12.6"/></g>
<polygon points="426.4,0.6 424.6,3.4 428.2,3.4" fill="#555"/>
<polygon points="438.2,12.6 435.4,10.8 435.4,14.4" fill="#555"/>
<line x1="432.6" y1="1" x2="432.6" y2="11" stroke="#1a78a8" stroke-width="1.3"/>
<polygon points="433.4,6.5 436.4,4.4 436.4,8.6" fill="#e05008"/><line x1="435" y1="6.5" x2="438.4" y2="6.5" stroke="#e05008" stroke-width="1.2"/>
<path d="M457.6,-1 H466 L469,2 V12.4 H457.6 Z" fill="#fafafa" stroke="#8a8a8a" stroke-width="0.8"/>
<text x="459" y="8" font-family="Liberation Serif, serif" font-style="italic" font-size="9" fill="#555">f</text>
<path d="M465.2,5.6 h3.6 v3.6 h3.8 v3.6 h-3.8 v3.8 h-3.6 v-3.8 h-3.6 v-3.6 h3.6 z" fill="#22cc22" stroke="#0a8a0a" stroke-width="0.8"/>
<polygon points="478.5,5.8 484.5,5.8 481.5,9.2" fill="#000"/>
<polygon points="517.5,5.8 523.5,5.8 520.5,9.2" fill="#000"/>
<polygon points="556.5,5.8 562.5,5.8 559.5,9.2" fill="#000"/>
<polygon points="862.5,5.8 868.5,5.8 865.5,9.2" fill="#000"/>
<circle cx="503" cy="6.8" r="6.8" fill="#f4f8ff" stroke="#1a66d8" stroke-width="2.2"/>
<path d="M503,3 V7.2 H505.6" fill="none" stroke="#333" stroke-width="1"/>
<rect x="534.6" y="-1" width="15" height="14.4" fill="#fff" stroke="#3a6ab8" stroke-width="0.9"/>
<rect x="534.6" y="-1" width="15" height="3.4" fill="#3a78c8"/>
<line x1="534.6" y1="8" x2="549.6" y2="8" stroke="#3a6ab8" stroke-width="0.8"/>
<polyline points="536.4,6.4 539,5.2 541,4.6 543.6,5.4 547.8,4.4" fill="none" stroke="#a82010" stroke-width="1.1"/>
<polyline points="537,11.4 539.6,10.4 541.6,11.4 544.8,9.4 547.6,11.4" fill="none" stroke="#18901a" stroke-width="1.1"/>
<polygon points="586.4,-1 586.4,10.4 589,8 591.2,13 593,12.2 590.8,7.4 594.2,7.4" fill="#444"/>
<g stroke="#444" stroke-width="1.1"><line x1="611" y1="7.4" x2="626" y2="7.4"/><line x1="618.5" y1="0" x2="618.5" y2="15"/></g>
<rect x="618" y="7" width="1" height="1" fill="#f0f0f0"/>
<line x1="652.5" y1="1" x2="652.5" y2="14" stroke="#444" stroke-width="1.2"/>
<line x1="675" y1="7.4" x2="687" y2="7.4" stroke="#444" stroke-width="1.2"/>
<line x1="703" y1="14" x2="715" y2="2" stroke="#444" stroke-width="1.2"/>
<g stroke="#444" stroke-width="0.9" fill="none"><line x1="729" y1="9" x2="741" y2="1"/><line x1="731" y1="13" x2="743" y2="5"/><line x1="732" y1="6" x2="733.5" y2="12"/><line x1="735" y1="4" x2="736.5" y2="10"/><line x1="738" y1="2" x2="739.5" y2="8"/><line x1="741" y1="0" x2="742" y2="6"/></g>
<text x="739.6" y="16" font-family="Liberation Sans, sans-serif" font-size="6.5" font-weight="700" fill="#333">E</text>
<line x1="758" y1="0.5" x2="771" y2="0.5" stroke="#444" stroke-width="1" stroke-dasharray="1 1" shape-rendering="crispEdges"/>
<line x1="758" y1="3.5" x2="771" y2="3.5" stroke="#444" stroke-width="1" stroke-dasharray="1 1" shape-rendering="crispEdges"/>
<line x1="758" y1="7.5" x2="771" y2="7.5" stroke="#444" stroke-width="1" stroke-dasharray="1 1" shape-rendering="crispEdges"/>
<line x1="758" y1="11.5" x2="771" y2="11.5" stroke="#444" stroke-width="1" stroke-dasharray="1 1" shape-rendering="crispEdges"/>
<text x="768" y="16" font-family="Liberation Sans, sans-serif" font-size="6.5" font-weight="700" fill="#333">F</text>
<text x="788.4" y="11.8" font-family="Liberation Sans, sans-serif" font-size="12" font-weight="700" fill="#4a4a4a">A</text>
<rect x="815.5" y="1.5" width="11" height="12" fill="none" stroke="#444" stroke-width="1" stroke-dasharray="1 1" shape-rendering="crispEdges"/>
<text x="817.3" y="11.8" font-family="Liberation Sans, sans-serif" font-size="10.5" font-weight="700" fill="#4a4a4a">T</text>
<polygon points="842.5,4 845.5,1 848.5,4 845.5,6" fill="#444"/>
<polygon points="850,10.5 853,8.2 856,10.5 853,13.6" fill="#444"/>
<polyline points="844.6,8 846.6,10.4 850.6,5.4" fill="none" stroke="#444" stroke-width="1.3"/>
<text x="889.5" y="11" font-family="Liberation Sans, sans-serif" font-size="10" fill="#3c3c3c" stroke="#3c3c3c" stroke-width="0.15" text-rendering="geometricPrecision" textLength="13.0" lengthAdjust="spacingAndGlyphs">M1</text>
<text x="917.5" y="11" font-family="Liberation Sans, sans-serif" font-size="10" fill="#3c3c3c" stroke="#3c3c3c" stroke-width="0.15" text-rendering="geometricPrecision" textLength="13.0" lengthAdjust="spacingAndGlyphs">M5</text>
<text x="943.5" y="11" font-family="Liberation Sans, sans-serif" font-size="10" fill="#3c3c3c" stroke="#3c3c3c" stroke-width="0.15" text-rendering="geometricPrecision" textLength="18.0" lengthAdjust="spacingAndGlyphs">M15</text>
<text x="971.5" y="11" font-family="Liberation Sans, sans-serif" font-size="10" fill="#3c3c3c" stroke="#3c3c3c" stroke-width="0.15" text-rendering="geometricPrecision" textLength="18.0" lengthAdjust="spacingAndGlyphs">M30</text>
<text x="1002.5" y="11" font-family="Liberation Sans, sans-serif" font-size="10" fill="#3c3c3c" stroke="#3c3c3c" stroke-width="0.15" text-rendering="geometricPrecision" textLength="12.0" lengthAdjust="spacingAndGlyphs">H1</text>
<text x="1029.5" y="11" font-family="Liberation Sans, sans-serif" font-size="10" fill="#3c3c3c" stroke="#3c3c3c" stroke-width="0.15" text-rendering="geometricPrecision" textLength="12.5" lengthAdjust="spacingAndGlyphs">H4</text>
<text x="1058.5" y="11" font-family="Liberation Sans, sans-serif" font-size="10" fill="#3c3c3c" stroke="#3c3c3c" stroke-width="0.15" text-rendering="geometricPrecision" textLength="12.0" lengthAdjust="spacingAndGlyphs">D1</text>
<text x="1086.0" y="11" font-family="Liberation Sans, sans-serif" font-size="10" fill="#3c3c3c" stroke="#3c3c3c" stroke-width="0.15" text-rendering="geometricPrecision" textLength="14.5" lengthAdjust="spacingAndGlyphs">W1</text>
<text x="1112.5" y="11" font-family="Liberation Sans, sans-serif" font-size="10" fill="#3c3c3c" stroke="#3c3c3c" stroke-width="0.15" text-rendering="geometricPrecision" textLength="15.0" lengthAdjust="spacingAndGlyphs">MN</text>
<line x1="1603" y1="8" x2="1598.4" y2="12.2" stroke="#2a5ad8" stroke-width="2.4" stroke-linecap="round"/>
<circle cx="1605.8" cy="4.8" r="3.8" fill="#fff" stroke="#2a5ad8" stroke-width="1.4"/>
<path d="M1632,4.3 a6.4,5.2 0 1 1 9.6,4.5 l0.4,2 l-2.6,-1.3 a6.4,5.2 0 0 1 -7.4,-5.2 z" fill="#f2f2f6" stroke="#8c8c8c" stroke-width="0.8"/>
<ellipse cx="1638.4" cy="5.6" rx="3.4" ry="1.8" fill="#dcdcec" opacity="0.8"/>
<path d="M1624.5,8.2 a5,3.8 0 1 1 3.6,3.6 l-1.6,1.9 l-0.1,-2.4 a5,3.8 0 0 1 -1.9,-3.1 z" fill="#f4f4f8" stroke="#8c8c8c" stroke-width="0.8"/>
<ellipse cx="1629.6" cy="9" rx="2.8" ry="1.4" fill="#dcdcec" opacity="0.8"/>
</g>
</svg>
</body></html>
